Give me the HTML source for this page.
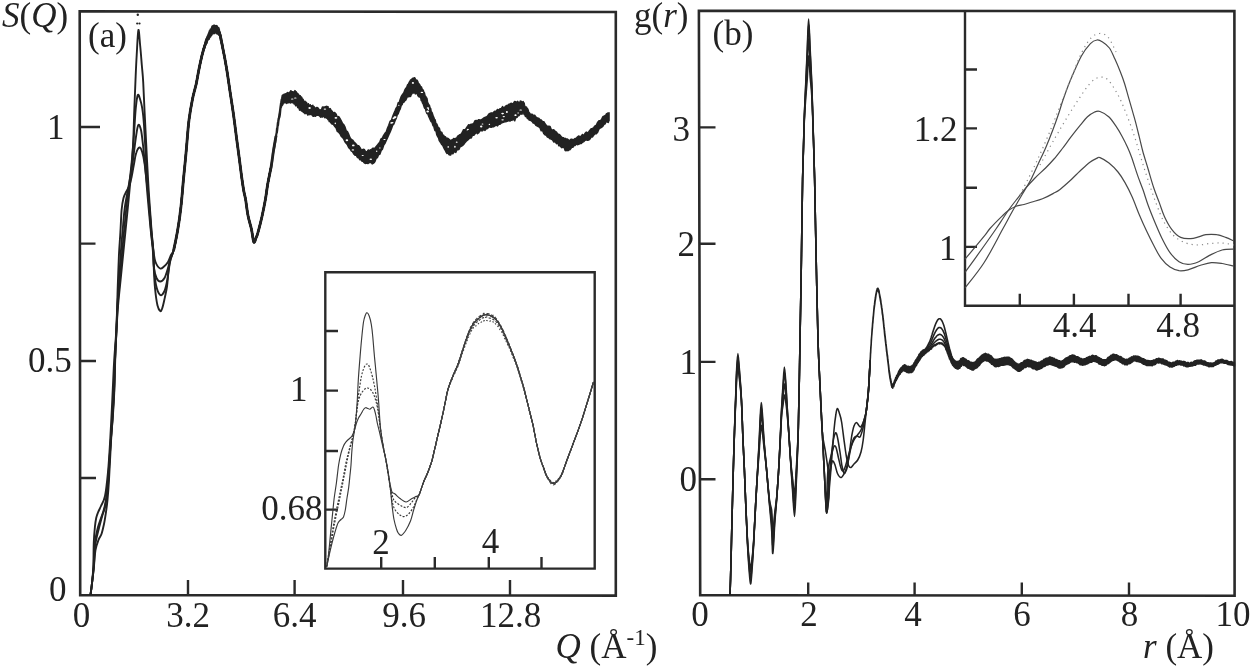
<!DOCTYPE html><html><head><meta charset="utf-8"><style>html,body{margin:0;padding:0;background:#fff;overflow:hidden}svg{display:block}text{font-family:"Liberation Serif",serif;fill:#222}</style></head><body>
<svg width="1251" height="667" viewBox="0 0 1251 667">
<rect width="100%" height="100%" fill="#fff"/>
<g fill="none" stroke="#2a2a2a" stroke-width="2.6" stroke-linecap="square">
<path d="M79.7 11.3 L615.8 12 L615.8 595.6 L80.2 595.1 Z"/>
<path d="M698.9 10.9 L1234.4 11.1 L1234.6 595.8 L700.2 595.2 Z"/>
</g>
<g fill="none" stroke="#2a2a2a" stroke-width="2.4">
<path d="M325.3 272.3 L594.7 272.3 L594.7 568.6 L325.3 568.6 Z"/>
<path d="M965 10.8 L965 305.8 L1234.5 305.8"/>
</g>
<path d="M80 127 H100 M80 243.6 H95.5 M80 361 H96 M80 478 H96 M188.0 595 V580 M294.6 595 V580 M403.0 595 V580 M510.0 595 V580 M699.5 127.4 H715.5 M699.5 243.8 H715.5 M699.5 361.9 H715.5 M699.5 479.2 H715.5 M808.2 595 V582.5 M914.6 595 V582.5 M1021.8 595 V582.5 M1129.0 595 V582.5 M325.3 331.0 H338 M325.3 390.6 H338 M325.3 451.0 H338 M325.3 509.6 H338 M381.2 568 V557 M434.8 568 V557 M488.8 568 V557 M541.5 568 V557 M965 69.5 H977 M965 128.4 H977 M965 187.7 H977 M965 246.9 H977 M1019.8 305.8 V293.7 M1073.9 305.8 V293.7 M1128.5 305.8 V293.7 M1180.6 305.8 V293.7" fill="none" stroke="#2a2a2a" stroke-width="2.4"/>
<g fill="none" stroke="#222" stroke-width="1.9" stroke-linejoin="round">
<path d="M90.5 595.0 C90.7 593.3 91.2 589.5 91.8 585.0 C92.3 580.5 93.2 573.8 93.8 568.0 C94.4 562.2 94.7 554.7 95.5 550.0 C96.3 545.3 97.5 542.7 98.5 540.0 C99.5 537.3 100.6 536.7 101.5 534.0 C102.4 531.3 103.2 527.7 104.0 524.0 C104.8 520.3 105.4 516.0 106.0 512.0 C106.6 508.0 107.0 505.3 107.5 500.0 C108.0 494.7 108.4 490.0 109.0 480.0 C109.6 470.0 110.5 450.0 111.1 440.0 C111.7 430.0 111.9 428.4 112.4 420.0 C112.9 411.6 113.8 399.3 114.2 389.4 C114.6 379.5 114.6 370.5 115.0 360.6 C115.4 350.7 116.0 339.4 116.5 330.0 C117.0 320.6 117.5 312.3 118.2 304.0 C118.9 295.7 119.8 288.0 120.6 280.0 C121.4 272.0 122.2 264.0 123.0 256.0 C123.8 248.0 124.6 240.0 125.4 232.0 C126.2 224.0 127.0 216.0 127.8 208.0 C128.6 200.0 129.4 191.7 130.1 184.0 C130.8 176.3 131.5 169.3 132.0 162.0 C132.5 154.7 132.9 148.7 133.3 140.0 C133.7 131.3 133.9 120.0 134.3 110.0 C134.7 100.0 135.1 89.2 135.5 80.0 C135.9 70.8 136.2 63.3 136.7 55.0 C137.2 46.7 137.8 31.5 138.4 30.0 C139.0 28.5 139.6 40.2 140.2 46.0 C140.8 51.8 141.3 59.0 141.8 65.0 C142.3 71.0 142.8 74.5 143.2 82.0 C143.6 89.5 144.1 102.0 144.5 110.0 C144.9 118.0 145.1 121.7 145.5 130.0 C145.9 138.3 146.4 149.2 147.0 160.0 C147.6 170.8 148.2 183.3 149.0 195.0 C149.8 206.7 150.8 220.8 151.5 230.0 C152.2 239.2 152.9 243.7 153.3 250.0 C153.7 256.3 153.5 261.7 153.8 268.0 C154.1 274.3 154.4 281.8 155.0 288.0 C155.6 294.2 156.6 301.7 157.5 305.5 C158.4 309.3 159.4 310.4 160.2 311.0 C160.9 311.6 161.3 310.8 162.0 309.0 C162.7 307.2 163.5 303.7 164.3 300.0 C165.1 296.3 166.3 291.6 167.0 286.6 C167.7 281.6 167.9 274.6 168.5 270.0 C169.1 265.4 169.6 262.3 170.5 259.0 C171.4 255.7 172.5 254.8 173.7 250.0 C174.9 245.2 176.5 237.0 177.7 230.0 C178.9 223.0 179.9 216.3 180.8 208.0 C181.8 199.7 182.5 189.7 183.4 180.0 C184.3 170.3 185.4 160.0 186.3 150.0 C187.2 140.0 187.9 128.6 189.0 120.0 C190.1 111.4 191.4 104.5 192.6 98.5 C193.8 92.5 195.1 88.8 196.2 84.0 C197.2 79.2 198.0 74.1 198.9 69.6 C199.8 65.1 200.6 61.2 201.6 57.0 C202.6 52.8 203.9 48.1 205.2 44.4 C206.5 40.6 208.2 37.0 209.5 34.5 C210.8 32.0 212.1 30.3 213.3 29.5 C214.5 28.7 215.5 29.2 216.5 29.8 C217.5 30.4 218.4 29.9 219.5 33.0 C220.6 36.1 221.7 42.9 222.9 48.7 C224.1 54.5 225.3 60.8 226.5 68.0 C227.7 75.2 228.9 84.0 230.1 92.0 C231.3 100.0 232.6 108.0 233.7 116.0 C234.8 124.0 235.8 132.7 236.8 140.0 C237.8 147.3 238.7 153.7 239.5 160.0 C240.3 166.3 241.1 173.0 241.8 178.0 C242.5 183.0 243.0 186.4 243.6 190.0 C244.2 193.6 244.8 195.1 245.6 199.4 C246.3 203.7 247.1 211.1 248.1 216.0 C249.1 220.9 250.4 224.7 251.4 229.0 C252.4 233.3 253.0 240.5 253.8 242.0 C254.6 243.5 255.3 239.6 256.0 238.0 C256.7 236.4 257.0 236.1 258.0 232.4 C259.0 228.7 260.9 221.5 262.1 216.0 C263.3 210.5 264.4 204.9 265.4 199.4 C266.4 193.9 266.9 188.5 267.9 183.0 C268.9 177.5 270.6 169.2 271.2 166.5"/>
<path d="M90.5 595.0 C90.7 593.3 91.2 589.7 91.8 585.0 C92.3 580.3 93.3 573.3 93.8 567.0 C94.3 560.7 94.5 552.2 95.0 547.0 C95.5 541.8 96.2 539.5 97.0 536.0 C97.8 532.5 98.6 529.5 99.5 526.0 C100.4 522.5 101.5 518.5 102.5 515.0 C103.5 511.5 104.6 510.0 105.5 505.0 C106.4 500.0 107.1 495.8 108.0 485.0 C108.9 474.2 110.0 450.8 110.8 440.0 C111.6 429.2 112.0 428.5 112.6 420.0 C113.2 411.5 114.0 399.0 114.4 389.0 C114.8 379.0 114.9 369.8 115.2 360.0 C115.5 350.2 116.1 339.3 116.5 330.0 C116.9 320.7 117.2 312.3 117.8 304.0 C118.3 295.7 119.1 288.0 119.8 280.0 C120.5 272.0 121.1 264.0 121.8 256.0 C122.5 248.0 123.2 240.0 124.0 232.0 C124.8 224.0 125.5 215.7 126.3 208.0 C127.1 200.3 128.2 193.0 129.0 186.0 C129.8 179.0 130.6 172.8 131.3 166.0 C132.0 159.2 132.6 151.8 133.2 145.0 C133.8 138.2 134.2 131.2 134.6 125.0 C135.0 118.8 135.3 113.0 135.8 108.0 C136.3 103.0 137.1 96.5 137.8 95.0 C138.5 93.5 139.3 96.8 140.0 99.0 C140.7 101.2 141.5 103.7 142.2 108.0 C142.9 112.3 143.4 116.3 144.0 125.0 C144.6 133.7 145.3 148.3 146.0 160.0 C146.7 171.7 147.5 183.3 148.3 195.0 C149.1 206.7 150.2 220.8 151.0 230.0 C151.8 239.2 152.7 243.7 153.2 250.0 C153.7 256.3 153.5 262.2 154.0 268.0 C154.5 273.8 155.0 280.5 156.0 285.0 C157.0 289.5 158.8 294.0 160.2 295.0 C161.6 296.0 163.3 293.7 164.5 291.0 C165.7 288.3 166.6 283.8 167.5 279.0 C168.4 274.2 169.0 266.8 170.0 262.0 C171.0 257.2 172.4 255.3 173.7 250.0 C175.0 244.7 176.5 237.0 177.7 230.0 C178.9 223.0 179.9 216.3 180.8 208.0 C181.8 199.7 182.5 189.7 183.4 180.0 C184.3 170.3 185.4 160.0 186.3 150.0 C187.2 140.0 187.9 128.6 189.0 120.0 C190.1 111.4 191.4 104.5 192.6 98.5 C193.8 92.5 195.1 88.8 196.2 84.0 C197.2 79.2 198.0 74.1 198.9 69.6 C199.8 65.1 200.6 61.2 201.6 57.0 C202.6 52.8 203.9 48.1 205.2 44.4 C206.5 40.6 208.2 37.0 209.5 34.5 C210.8 32.0 212.1 30.3 213.3 29.5 C214.5 28.7 215.5 29.2 216.5 29.8 C217.5 30.4 218.4 29.9 219.5 33.0 C220.6 36.1 221.7 42.9 222.9 48.7 C224.1 54.5 225.3 60.8 226.5 68.0 C227.7 75.2 228.9 84.0 230.1 92.0 C231.3 100.0 232.6 108.0 233.7 116.0 C234.8 124.0 235.8 132.7 236.8 140.0 C237.8 147.3 238.7 153.7 239.5 160.0 C240.3 166.3 241.1 173.0 241.8 178.0 C242.5 183.0 243.0 186.4 243.6 190.0 C244.2 193.6 244.8 195.1 245.6 199.4 C246.3 203.7 247.1 211.1 248.1 216.0 C249.1 220.9 250.4 224.7 251.4 229.0 C252.4 233.3 253.0 240.5 253.8 242.0 C254.6 243.5 255.3 239.6 256.0 238.0 C256.7 236.4 257.0 236.1 258.0 232.4 C259.0 228.7 260.9 221.5 262.1 216.0 C263.3 210.5 264.4 204.9 265.4 199.4 C266.4 193.9 266.9 188.5 267.9 183.0 C268.9 177.5 270.6 169.2 271.2 166.5"/>
<path d="M90.5 595.0 C90.7 593.3 91.3 589.7 91.8 585.0 C92.3 580.3 93.1 573.5 93.6 567.0 C94.0 560.5 94.1 551.2 94.5 546.0 C94.9 540.8 95.4 539.2 96.0 536.0 C96.6 532.8 97.2 530.0 98.0 527.0 C98.8 524.0 100.0 521.0 101.0 518.0 C102.0 515.0 103.0 513.3 104.0 509.0 C105.0 504.7 105.9 502.7 107.0 492.0 C108.1 481.3 109.6 457.0 110.5 445.0 C111.4 433.0 111.7 429.3 112.3 420.0 C112.9 410.7 113.5 399.0 114.0 389.0 C114.5 379.0 114.6 369.8 115.0 360.0 C115.4 350.2 116.0 339.3 116.4 330.0 C116.8 320.7 117.0 312.3 117.5 304.0 C118.0 295.7 118.7 288.0 119.2 280.0 C119.7 272.0 120.0 264.0 120.6 256.0 C121.1 248.0 121.8 239.7 122.5 232.0 C123.2 224.3 123.7 216.7 124.5 210.0 C125.3 203.3 126.5 197.7 127.5 192.0 C128.5 186.3 129.6 181.3 130.5 176.0 C131.4 170.7 132.1 166.3 133.0 160.0 C133.9 153.7 134.9 143.8 135.8 138.0 C136.7 132.2 137.4 126.3 138.3 125.0 C139.2 123.7 140.2 126.7 141.0 130.0 C141.8 133.3 142.3 139.2 143.0 145.0 C143.7 150.8 144.2 156.7 145.0 165.0 C145.8 173.3 146.6 184.5 147.5 195.0 C148.4 205.5 149.6 218.8 150.5 228.0 C151.4 237.2 152.2 243.3 152.8 250.0 C153.4 256.7 153.4 263.3 154.0 268.0 C154.6 272.7 155.5 275.8 156.5 278.0 C157.5 280.2 158.9 281.5 160.2 281.5 C161.5 281.5 163.2 280.2 164.5 278.0 C165.8 275.8 167.0 271.3 168.0 268.0 C169.0 264.7 169.6 261.0 170.5 258.0 C171.4 255.0 172.5 254.7 173.7 250.0 C174.9 245.3 176.5 237.0 177.7 230.0 C178.9 223.0 179.9 216.3 180.8 208.0 C181.8 199.7 182.5 189.7 183.4 180.0 C184.3 170.3 185.4 160.0 186.3 150.0 C187.2 140.0 187.9 128.6 189.0 120.0 C190.1 111.4 191.4 104.5 192.6 98.5 C193.8 92.5 195.1 88.8 196.2 84.0 C197.2 79.2 198.0 74.1 198.9 69.6 C199.8 65.1 200.6 61.2 201.6 57.0 C202.6 52.8 203.9 48.1 205.2 44.4 C206.5 40.6 208.2 37.0 209.5 34.5 C210.8 32.0 212.1 30.3 213.3 29.5 C214.5 28.7 215.5 29.2 216.5 29.8 C217.5 30.4 218.4 29.9 219.5 33.0 C220.6 36.1 221.7 42.9 222.9 48.7 C224.1 54.5 225.3 60.8 226.5 68.0 C227.7 75.2 228.9 84.0 230.1 92.0 C231.3 100.0 232.6 108.0 233.7 116.0 C234.8 124.0 235.8 132.7 236.8 140.0 C237.8 147.3 238.7 153.7 239.5 160.0 C240.3 166.3 241.1 173.0 241.8 178.0 C242.5 183.0 243.0 186.4 243.6 190.0 C244.2 193.6 244.8 195.1 245.6 199.4 C246.3 203.7 247.1 211.1 248.1 216.0 C249.1 220.9 250.4 224.7 251.4 229.0 C252.4 233.3 253.0 240.5 253.8 242.0 C254.6 243.5 255.3 239.6 256.0 238.0 C256.7 236.4 257.0 236.1 258.0 232.4 C259.0 228.7 260.9 221.5 262.1 216.0 C263.3 210.5 264.4 204.9 265.4 199.4 C266.4 193.9 266.9 188.5 267.9 183.0 C268.9 177.5 270.6 169.2 271.2 166.5"/>
<path d="M90.5 595.0 C90.7 593.3 91.3 589.7 91.8 585.0 C92.3 580.3 93.0 574.2 93.3 567.0 C93.6 559.8 93.5 548.7 93.8 542.0 C94.1 535.3 94.5 531.0 94.9 527.0 C95.3 523.0 95.7 520.4 96.2 518.0 C96.7 515.6 97.2 514.5 98.0 512.5 C98.8 510.5 99.8 508.8 101.0 506.0 C102.2 503.2 103.8 501.7 105.0 496.0 C106.2 490.3 107.1 481.3 108.0 472.0 C108.9 462.7 109.6 450.3 110.2 440.0 C110.8 429.7 111.3 420.0 111.8 410.0 C112.3 400.0 112.8 388.3 113.2 380.0 C113.6 371.7 113.7 368.3 114.2 360.0 C114.7 351.7 115.8 339.3 116.3 330.0 C116.8 320.7 117.0 311.5 117.2 304.0 C117.5 296.5 117.5 293.0 117.8 285.0 C118.1 277.0 118.5 264.8 118.9 256.0 C119.3 247.2 120.0 239.7 120.4 232.0 C120.9 224.3 121.1 215.7 121.6 210.0 C122.1 204.3 122.7 201.2 123.5 198.0 C124.3 194.8 125.6 193.0 126.6 191.0 C127.5 189.0 128.4 188.3 129.2 186.0 C130.0 183.7 130.8 180.5 131.6 177.0 C132.4 173.5 133.0 169.0 133.8 165.0 C134.6 161.0 135.2 155.9 136.2 153.0 C137.1 150.1 138.5 147.7 139.5 147.5 C140.5 147.3 141.4 149.4 142.2 152.0 C143.0 154.6 143.8 158.3 144.5 163.0 C145.2 167.7 145.8 173.8 146.5 180.0 C147.2 186.2 148.0 191.7 148.8 200.0 C149.6 208.3 150.6 221.7 151.3 230.0 C152.1 238.3 152.6 244.7 153.3 250.0 C154.0 255.3 154.3 258.9 155.5 262.0 C156.7 265.1 158.8 267.8 160.2 268.5 C161.6 269.2 162.7 267.6 164.0 266.5 C165.3 265.4 166.8 263.9 168.0 262.0 C169.2 260.1 170.1 257.0 171.0 255.0 C171.9 253.0 172.6 254.2 173.7 250.0 C174.8 245.8 176.5 237.0 177.7 230.0 C178.9 223.0 179.9 216.3 180.8 208.0 C181.8 199.7 182.5 189.7 183.4 180.0 C184.3 170.3 185.4 160.0 186.3 150.0 C187.2 140.0 187.9 128.6 189.0 120.0 C190.1 111.4 191.4 104.5 192.6 98.5 C193.8 92.5 195.1 88.8 196.2 84.0 C197.2 79.2 198.0 74.1 198.9 69.6 C199.8 65.1 200.6 61.2 201.6 57.0 C202.6 52.8 203.9 48.1 205.2 44.4 C206.5 40.6 208.2 37.0 209.5 34.5 C210.8 32.0 212.1 30.3 213.3 29.5 C214.5 28.7 215.5 29.2 216.5 29.8 C217.5 30.4 218.4 29.9 219.5 33.0 C220.6 36.1 221.7 42.9 222.9 48.7 C224.1 54.5 225.3 60.8 226.5 68.0 C227.7 75.2 228.9 84.0 230.1 92.0 C231.3 100.0 232.6 108.0 233.7 116.0 C234.8 124.0 235.8 132.7 236.8 140.0 C237.8 147.3 238.7 153.7 239.5 160.0 C240.3 166.3 241.1 173.0 241.8 178.0 C242.5 183.0 243.0 186.4 243.6 190.0 C244.2 193.6 244.8 195.1 245.6 199.4 C246.3 203.7 247.1 211.1 248.1 216.0 C249.1 220.9 250.4 224.7 251.4 229.0 C252.4 233.3 253.0 240.5 253.8 242.0 C254.6 243.5 255.3 239.6 256.0 238.0 C256.7 236.4 257.0 236.1 258.0 232.4 C259.0 228.7 260.9 221.5 262.1 216.0 C263.3 210.5 264.4 204.9 265.4 199.4 C266.4 193.9 266.9 188.5 267.9 183.0 C268.9 177.5 270.6 169.2 271.2 166.5"/>
</g>
<path d="M173.7 250.0 C174.4 246.7 176.5 237.0 177.7 230.0 C178.9 223.0 179.9 216.3 180.8 208.0 C181.8 199.7 182.5 189.7 183.4 180.0 C184.3 170.3 185.4 160.0 186.3 150.0 C187.2 140.0 187.9 128.6 189.0 120.0 C190.1 111.4 191.4 104.5 192.6 98.5 C193.8 92.5 195.1 88.8 196.2 84.0 C197.2 79.2 198.0 74.1 198.9 69.6 C199.8 65.1 200.6 61.2 201.6 57.0 C202.6 52.8 203.9 48.1 205.2 44.4 C206.5 40.6 208.2 37.0 209.5 34.5 C210.8 32.0 212.1 30.3 213.3 29.5 C214.5 28.7 215.5 29.2 216.5 29.8 C217.5 30.4 218.4 29.9 219.5 33.0 C220.6 36.1 221.7 42.9 222.9 48.7 C224.1 54.5 225.3 60.8 226.5 68.0 C227.7 75.2 228.9 84.0 230.1 92.0 C231.3 100.0 232.6 108.0 233.7 116.0 C234.8 124.0 235.8 132.7 236.8 140.0 C237.8 147.3 238.7 153.7 239.5 160.0 C240.3 166.3 241.1 173.0 241.8 178.0 C242.5 183.0 243.0 186.4 243.6 190.0 C244.2 193.6 244.8 195.1 245.6 199.4 C246.3 203.7 247.1 211.1 248.1 216.0 C249.1 220.9 250.4 224.7 251.4 229.0 C252.4 233.3 253.0 240.5 253.8 242.0 C254.6 243.5 255.3 239.6 256.0 238.0 C256.7 236.4 257.0 236.1 258.0 232.4 C259.0 228.7 260.9 221.5 262.1 216.0 C263.3 210.5 264.4 204.9 265.4 199.4 C266.4 193.9 266.9 188.5 267.9 183.0 C268.9 177.5 270.2 172.0 271.2 166.5 C272.1 161.0 272.8 155.1 273.6 150.0 C274.4 144.9 275.6 138.3 276.0 136.0" fill="none" stroke="#222" stroke-width="2.8" stroke-linejoin="round"/>
<path d="M196.2 83.4 L196.4 81.7 L196.7 80.0 L197.0 79.6 L197.4 77.0 L197.8 74.0 L198.2 73.0 L198.5 71.0 L198.9 68.3 L199.2 67.0 L199.6 65.5 L199.9 63.6 L200.2 61.5 L200.5 60.9 L200.9 58.9 L201.2 57.0 L201.6 55.4 L202.0 53.7 L202.4 53.1 L202.9 50.6 L203.3 48.4 L203.8 48.1 L204.2 45.9 L204.7 44.3 L205.2 42.1 L205.7 40.3 L206.2 38.7 L206.8 37.9 L207.3 36.3 L207.9 35.3 L208.4 33.9 L209.0 32.7 L209.5 30.7 L210.0 30.6 L210.5 29.1 L211.0 29.5 L211.5 28.2 L211.9 26.8 L212.4 25.9 L212.9 26.4 L213.3 26.2 L213.7 25.3 L214.1 25.6 L214.6 25.3 L215.0 25.7 L215.3 26.2 L215.7 25.8 L216.1 26.1 L216.5 25.7 L216.9 26.0 L217.3 26.0 L217.6 27.4 L218.0 27.5 L218.4 28.0 L218.7 27.8 L219.1 29.0 L219.5 30.9 L219.9 32.0 L220.3 34.1 L220.7 34.8 L221.2 37.2 L221.6 40.8 L222.0 41.6 L222.5 44.3 L222.9 47.3 L223.3 49.2 L223.8 51.8 L224.2 53.4 L224.7 56.8 L225.1 58.9 L225.6 62.0 L226.0 64.8 L226.5 67.2 L227.0 70.5 L227.5 72.6 L228.0 76.8 L228.5 80.5 L229.0 84.2 L229.5 86.0 L229.8 89.3 L230.1 91.1 L230.1 92.2 L229.8 91.0 L229.5 87.8 L229.0 84.9 L228.5 81.4 L228.0 78.1 L227.5 74.5 L227.0 72.0 L226.5 69.5 L226.0 66.0 L225.6 63.8 L225.1 61.8 L224.7 58.4 L224.2 56.9 L223.8 54.0 L223.3 51.8 L222.9 51.0 L222.5 48.0 L222.0 45.4 L221.6 44.2 L221.2 42.7 L220.7 40.9 L220.3 38.0 L219.9 36.4 L219.5 35.5 L219.1 34.6 L218.7 35.0 L218.4 33.8 L218.0 33.3 L217.6 33.5 L217.3 33.9 L216.9 33.8 L216.5 33.4 L216.1 32.7 L215.7 32.4 L215.3 32.5 L215.0 31.9 L214.6 33.5 L214.1 32.7 L213.7 33.5 L213.3 32.6 L212.9 33.7 L212.4 33.7 L211.9 34.5 L211.5 35.5 L211.0 34.8 L210.5 36.9 L210.0 36.2 L209.5 37.7 L209.0 39.2 L208.4 38.9 L207.9 39.8 L207.3 41.3 L206.8 43.3 L206.2 43.1 L205.7 45.1 L205.2 45.5 L204.7 48.2 L204.2 48.3 L203.8 49.8 L203.3 51.8 L202.9 53.5 L202.4 54.4 L202.0 57.3 L201.6 58.7 L201.2 59.3 L200.9 60.6 L200.5 63.1 L200.2 63.9 L199.9 66.1 L199.6 67.7 L199.2 69.5 L198.9 69.8 L198.5 71.7 L198.2 74.1 L197.8 76.0 L197.4 78.4 L197.0 79.5 L196.7 82.0 L196.4 84.0 L196.2 84.3 Z" fill="#222" stroke="#222" stroke-width="1.6" stroke-linejoin="round"/>
<path d="M266.1 193.7 L266.4 191.9 L266.6 190.4 L266.9 186.9 L267.2 185.4 L267.6 185.1 L267.9 182.6 L268.3 180.0 L268.7 177.9 L269.1 175.5 L269.6 173.8 L270.0 171.9 L270.4 168.7 L270.8 167.9 L271.2 165.4 L271.5 163.3 L271.9 160.4 L272.2 158.4 L272.5 157.3 L272.7 153.4 L273.0 153.3 L273.3 150.4 L273.6 148.2 L273.9 145.9 L274.2 144.7 L274.5 143.3 L274.8 142.0 L275.0 139.9 L275.4 138.6 L275.7 136.8 L276.0 134.3 L276.4 132.3 L276.7 128.6 L277.1 127.5 L277.5 123.2 L277.9 121.4 L278.3 118.5 L278.7 117.5 L279.1 114.4 L279.5 112.3 L279.8 110.2 L280.2 106.9 L280.6 104.0 L280.9 102.4 L281.4 99.3 L281.8 98.5 L282.3 95.6 L282.8 95.1 L283.4 95.7 L284.0 94.2 L284.7 94.3 L285.3 93.9 L286.0 94.7 L286.8 93.3 L287.5 92.6 L288.3 94.1 L289.1 92.7 L290.0 92.1 L290.9 90.8 L291.8 92.1 L292.7 91.9 L293.5 92.0 L294.3 92.1 L295.0 90.6 L295.6 92.5 L296.2 91.9 L296.7 93.2 L297.3 93.2 L297.8 93.8 L298.4 94.2 L299.0 95.8 L299.6 95.8 L300.3 95.9 L300.9 97.9 L301.6 97.2 L302.3 99.3 L303.0 99.2 L303.6 101.2 L304.3 101.9 L305.0 101.3 L305.6 103.3 L306.3 102.3 L307.0 103.6 L307.7 104.8 L308.3 103.8 L309.0 105.7 L309.6 106.1 L310.2 104.8 L310.7 106.7 L311.2 105.8 L311.8 106.1 L312.3 107.4 L312.8 105.4 L313.4 107.6 L314.0 106.7 L314.7 108.2 L315.4 108.0 L316.1 108.1 L316.9 107.5 L317.7 107.7 L318.4 108.8 L319.2 109.6 L320.0 110.0 L320.8 109.8 L321.6 109.5 L322.5 107.0 L323.4 107.0 L324.2 107.8 L325.0 106.9 L325.7 107.2 L326.4 106.3 L326.9 106.9 L327.3 106.7 L327.7 107.4 L328.0 106.8 L328.3 109.0 L328.7 109.2 L329.3 109.3 L330.0 108.5 L330.9 109.9 L332.0 111.2 L333.3 113.1 L334.6 112.5 L336.0 114.0 L337.3 117.3 L338.7 116.6 L340.0 118.7 L341.2 120.8 L342.5 123.5 L343.8 124.9 L345.0 127.2 L346.2 131.0 L347.5 131.8 L348.8 134.7 L350.0 137.7 L351.3 139.4 L352.5 140.1 L353.8 141.8 L355.1 143.0 L356.4 144.5 L357.6 145.9 L358.8 145.9 L360.0 147.7 L361.1 149.7 L362.2 150.3 L363.2 149.4 L364.2 149.5 L365.2 151.2 L366.1 151.8 L367.1 151.8 L368.0 150.3 L368.9 150.0 L369.8 151.7 L370.6 149.8 L371.4 151.3 L372.2 148.7 L373.1 148.2 L374.0 148.6 L375.0 148.1 L376.1 146.7 L377.3 145.4 L378.5 143.8 L379.8 142.3 L381.1 138.9 L382.4 138.2 L383.7 135.4 L385.0 133.4 L386.3 132.0 L387.5 128.2 L388.8 125.2 L390.1 121.5 L391.4 120.5 L392.6 116.9 L393.8 113.9 L395.0 111.1 L396.1 108.3 L397.2 107.0 L398.2 102.9 L399.2 102.7 L400.2 99.5 L401.1 97.0 L402.1 95.2 L403.0 93.9 L403.9 92.7 L404.9 89.9 L405.8 88.5 L406.8 87.3 L407.6 84.9 L408.5 84.2 L409.3 82.2 L410.0 81.4 L410.6 80.1 L411.2 80.2 L411.6 79.4 L412.1 79.7 L412.5 78.4 L412.9 78.9 L413.4 78.5 L414.0 77.9 L414.7 77.7 L415.4 79.3 L416.1 80.7 L416.9 80.2 L417.7 81.4 L418.5 84.3 L419.3 84.1 L420.0 85.6 L420.7 87.4 L421.3 86.9 L421.9 88.5 L422.6 90.3 L423.2 90.1 L423.8 92.3 L424.4 92.9 L425.0 95.9 L425.6 96.4 L426.2 97.4 L426.9 98.5 L427.5 102.0 L428.1 103.7 L428.8 104.9 L429.4 105.4 L430.0 107.9 L430.6 108.5 L431.2 111.8 L431.9 112.4 L432.5 114.0 L433.1 116.2 L433.8 117.5 L434.4 119.3 L435.0 119.7 L435.6 122.2 L436.2 124.1 L436.8 124.0 L437.4 125.9 L438.0 127.3 L438.6 127.7 L439.3 128.3 L440.0 131.1 L440.8 132.2 L441.7 132.3 L442.6 134.9 L443.5 135.2 L444.4 136.9 L445.3 136.8 L446.2 138.1 L447.0 138.2 L447.7 138.3 L448.3 138.7 L448.9 140.7 L449.4 139.5 L450.0 140.2 L450.6 141.1 L451.2 140.5 L452.0 139.8 L452.8 139.7 L453.7 138.5 L454.7 139.2 L455.7 138.5 L456.7 138.1 L457.8 136.2 L458.9 135.5 L460.0 134.7 L461.2 134.1 L462.4 132.3 L463.6 129.7 L464.9 130.0 L466.2 128.4 L467.5 126.4 L468.7 124.8 L470.0 125.3 L471.2 124.2 L472.5 124.2 L473.8 123.3 L475.0 120.8 L476.2 120.6 L477.5 120.8 L478.8 119.7 L480.0 120.0 L481.2 119.7 L482.5 119.2 L483.8 118.1 L485.0 117.6 L486.2 117.1 L487.5 116.3 L488.8 114.1 L490.0 113.4 L491.2 112.9 L492.5 113.5 L493.8 112.1 L495.0 111.2 L496.2 111.6 L497.5 109.5 L498.8 110.2 L500.0 108.7 L501.3 108.7 L502.6 106.7 L503.9 108.0 L505.2 106.7 L506.5 105.6 L507.7 105.6 L508.9 104.2 L510.0 104.0 L511.0 103.3 L512.0 103.8 L512.9 103.9 L513.8 102.8 L514.7 101.5 L515.5 101.7 L516.2 102.3 L517.0 102.7 L517.7 101.4 L518.4 102.7 L519.1 102.7 L519.7 102.9 L520.3 101.1 L520.9 102.4 L521.4 101.4 L522.0 102.4 L522.5 102.5 L523.1 101.7 L523.6 102.6 L524.1 103.0 L524.5 105.7 L525.0 106.7 L525.5 107.0 L526.0 108.1 L526.5 107.2 L526.9 109.4 L527.2 108.5 L527.6 108.8 L528.1 110.0 L528.6 112.2 L529.2 112.6 L530.0 113.8 L531.0 114.7 L532.1 114.2 L533.3 115.8 L534.6 115.3 L536.0 117.2 L537.4 118.0 L538.7 118.3 L540.0 119.8 L541.2 120.1 L542.5 121.7 L543.8 121.7 L545.0 123.8 L546.2 125.4 L547.5 126.5 L548.8 126.2 L550.0 126.5 L551.3 129.8 L552.6 130.0 L553.9 129.9 L555.2 131.4 L556.5 132.2 L557.7 134.3 L558.9 134.3 L560.0 135.2 L561.0 136.4 L561.9 137.5 L562.8 138.0 L563.6 137.8 L564.4 139.9 L565.2 138.4 L566.1 139.1 L567.0 139.0 L567.9 139.5 L568.9 140.4 L569.8 140.6 L570.8 139.4 L571.8 139.3 L572.8 139.9 L573.9 139.5 L575.0 138.6 L576.2 138.6 L577.4 137.1 L578.6 136.0 L579.9 137.0 L581.2 136.2 L582.5 134.5 L583.7 135.7 L585.0 133.6 L586.2 132.2 L587.5 133.0 L588.8 131.8 L590.0 130.2 L591.2 128.9 L592.5 128.7 L593.8 127.6 L595.0 126.0 L596.3 125.4 L597.6 122.5 L599.0 120.9 L600.4 120.9 L601.7 119.1 L602.9 116.8 L604.0 116.3 L605.0 115.6 L605.8 115.8 L606.5 113.8 L607.1 114.1 L607.6 113.1 L608.1 114.2 L608.4 114.7 L608.7 113.1 L609.0 112.8 L609.0 120.7 L608.7 120.1 L608.4 122.0 L608.1 122.4 L607.6 122.1 L607.1 120.8 L606.5 121.7 L605.8 122.2 L605.0 124.0 L604.0 124.2 L602.9 126.2 L601.7 127.2 L600.4 127.8 L599.0 128.8 L597.6 132.3 L596.3 133.6 L595.0 133.6 L593.8 134.9 L592.5 136.9 L591.2 136.7 L590.0 138.9 L588.8 140.0 L587.5 140.2 L586.2 139.7 L585.0 140.3 L583.7 141.6 L582.5 142.2 L581.2 143.4 L579.9 143.5 L578.6 144.3 L577.4 144.6 L576.2 144.0 L575.0 145.4 L573.9 145.5 L572.8 147.2 L571.8 146.7 L570.8 148.6 L569.8 149.8 L568.9 149.8 L567.9 150.6 L567.0 149.9 L566.1 150.7 L565.2 150.5 L564.4 148.0 L563.6 147.3 L562.8 146.9 L561.9 147.6 L561.0 146.8 L560.0 145.5 L558.9 145.8 L557.7 142.8 L556.5 143.6 L555.2 141.4 L553.9 142.0 L552.6 139.9 L551.3 139.0 L550.0 138.8 L548.8 137.5 L547.5 137.1 L546.2 135.1 L545.0 134.8 L543.8 133.4 L542.5 130.3 L541.2 130.6 L540.0 127.6 L538.7 126.7 L537.4 126.1 L536.0 125.4 L534.6 123.3 L533.3 122.9 L532.1 121.3 L531.0 120.6 L530.0 120.1 L529.2 120.0 L528.6 118.1 L528.1 118.8 L527.6 117.6 L527.2 118.2 L526.9 115.9 L526.5 116.7 L526.0 114.9 L525.5 116.5 L525.0 115.0 L524.5 113.8 L524.1 114.4 L523.6 112.5 L523.1 112.3 L522.5 111.9 L522.0 114.1 L521.4 112.3 L520.9 114.0 L520.3 113.6 L519.7 114.3 L519.1 115.4 L518.4 115.7 L517.7 115.9 L517.0 117.3 L516.2 117.5 L515.5 118.0 L514.7 120.7 L513.8 119.6 L512.9 119.1 L512.0 120.3 L511.0 119.7 L510.0 121.1 L508.9 120.6 L507.7 121.0 L506.5 121.4 L505.2 121.8 L503.9 122.0 L502.6 122.5 L501.3 122.9 L500.0 124.1 L498.8 124.1 L497.5 125.8 L496.2 125.1 L495.0 125.7 L493.8 126.6 L492.5 126.8 L491.2 127.2 L490.0 126.9 L488.8 127.0 L487.5 128.4 L486.2 128.7 L485.0 130.3 L483.8 129.3 L482.5 130.6 L481.2 130.8 L480.0 130.2 L478.8 132.7 L477.5 133.6 L476.2 132.3 L475.0 133.8 L473.8 135.3 L472.5 135.0 L471.2 138.0 L470.0 137.8 L468.7 138.9 L467.5 140.2 L466.2 141.2 L464.9 142.6 L463.6 144.5 L462.4 145.6 L461.2 146.2 L460.0 146.8 L458.9 149.5 L457.8 149.6 L456.7 150.1 L455.7 152.3 L454.7 151.1 L453.7 152.4 L452.8 153.7 L452.0 153.3 L451.2 153.4 L450.6 155.0 L450.0 155.0 L449.4 153.5 L448.9 154.6 L448.3 152.8 L447.7 152.7 L447.0 153.4 L446.2 152.3 L445.3 150.2 L444.4 148.8 L443.5 147.0 L442.6 145.0 L441.7 144.3 L440.8 142.7 L440.0 141.6 L439.3 140.6 L438.6 137.8 L438.0 137.0 L437.4 135.8 L436.8 134.6 L436.2 131.7 L435.6 130.2 L435.0 130.4 L434.4 128.5 L433.8 126.0 L433.1 125.8 L432.5 123.7 L431.9 121.7 L431.2 121.6 L430.6 120.5 L430.0 119.2 L429.4 117.7 L428.8 116.6 L428.1 114.5 L427.5 112.6 L426.9 113.3 L426.2 111.5 L425.6 109.0 L425.0 108.5 L424.4 107.5 L423.8 105.7 L423.2 103.8 L422.6 103.0 L421.9 100.8 L421.3 100.5 L420.7 97.3 L420.0 96.8 L419.3 97.0 L418.5 96.3 L417.7 95.0 L416.9 93.2 L416.1 92.6 L415.4 93.8 L414.7 92.8 L414.0 91.4 L413.4 93.0 L412.9 91.9 L412.5 92.9 L412.1 93.0 L411.6 94.3 L411.2 94.4 L410.6 96.2 L410.0 96.5 L409.3 96.0 L408.5 96.7 L407.6 96.4 L406.8 97.7 L405.8 100.0 L404.9 100.5 L403.9 102.2 L403.0 101.7 L402.1 104.4 L401.1 105.6 L400.2 108.9 L399.2 110.7 L398.2 113.6 L397.2 114.7 L396.1 118.4 L395.0 120.7 L393.8 123.9 L392.6 125.3 L391.4 128.8 L390.1 132.0 L388.8 134.7 L387.5 137.6 L386.3 140.3 L385.0 143.3 L383.7 144.9 L382.4 149.1 L381.1 150.4 L379.8 154.3 L378.5 154.6 L377.3 157.6 L376.1 158.3 L375.0 161.2 L374.0 162.7 L373.1 163.4 L372.2 163.9 L371.4 162.6 L370.6 162.5 L369.8 162.4 L368.9 162.6 L368.0 163.5 L367.1 163.3 L366.1 163.3 L365.2 163.4 L364.2 162.7 L363.2 161.3 L362.2 161.3 L361.1 159.5 L360.0 159.8 L358.8 157.8 L357.6 157.5 L356.4 155.3 L355.1 155.2 L353.8 153.9 L352.5 151.7 L351.3 150.9 L350.0 148.7 L348.8 147.6 L347.5 144.8 L346.2 143.3 L345.0 141.7 L343.8 139.1 L342.5 137.3 L341.2 136.1 L340.0 133.7 L338.7 132.2 L337.3 131.3 L336.0 127.6 L334.6 126.1 L333.3 124.2 L332.0 123.9 L330.9 122.8 L330.0 121.1 L329.3 121.5 L328.7 118.6 L328.3 119.8 L328.0 119.3 L327.7 118.9 L327.3 117.0 L326.9 118.1 L326.4 118.0 L325.7 116.4 L325.0 117.7 L324.2 116.6 L323.4 116.0 L322.5 117.0 L321.6 116.5 L320.8 117.2 L320.0 116.5 L319.2 114.9 L318.4 115.4 L317.7 114.8 L316.9 115.3 L316.1 115.5 L315.4 116.2 L314.7 114.5 L314.0 116.2 L313.4 116.2 L312.8 116.0 L312.3 114.1 L311.8 114.7 L311.2 114.7 L310.7 114.3 L310.2 114.2 L309.6 114.2 L309.0 114.8 L308.3 113.8 L307.7 115.0 L307.0 113.3 L306.3 112.9 L305.6 113.4 L305.0 113.6 L304.3 112.1 L303.6 112.4 L303.0 111.7 L302.3 110.7 L301.6 111.0 L300.9 110.1 L300.3 109.5 L299.6 110.1 L299.0 107.7 L298.4 107.8 L297.8 107.5 L297.3 106.1 L296.7 105.4 L296.2 105.0 L295.6 105.6 L295.0 102.8 L294.3 104.0 L293.5 102.7 L292.7 102.8 L291.8 101.6 L290.9 102.9 L290.0 102.8 L289.1 101.5 L288.3 102.7 L287.5 102.3 L286.8 103.3 L286.0 102.7 L285.3 102.8 L284.7 102.7 L284.0 102.7 L283.4 102.6 L282.8 104.6 L282.3 105.2 L281.8 104.8 L281.4 107.0 L280.9 108.0 L280.6 110.2 L280.2 114.7 L279.8 116.9 L279.5 117.6 L279.1 119.1 L278.7 121.3 L278.3 125.3 L277.9 126.2 L277.5 130.1 L277.1 132.9 L276.7 133.0 L276.4 136.4 L276.0 137.6 L275.7 140.3 L275.4 143.0 L275.0 142.7 L274.8 146.3 L274.5 147.7 L274.2 149.3 L273.9 150.2 L273.6 151.6 L273.3 153.3 L273.0 155.6 L272.7 157.1 L272.5 158.8 L272.2 162.9 L271.9 164.7 L271.5 167.0 L271.2 169.0 L270.8 170.0 L270.4 171.0 L270.0 174.4 L269.6 175.1 L269.1 178.7 L268.7 181.1 L268.3 181.4 L267.9 184.2 L267.6 186.2 L267.2 187.6 L266.9 191.1 L266.6 191.2 L266.4 194.5 L266.1 196.4 Z" fill="#222" stroke="#222" stroke-width="1.6" stroke-linejoin="round"/>
<g fill="#fff"><ellipse cx="481.2" cy="126.4" rx="1.2" ry="1.0"/><ellipse cx="518.1" cy="113.0" rx="0.6" ry="0.7"/><ellipse cx="489.4" cy="124.4" rx="0.7" ry="0.7"/><ellipse cx="362.7" cy="155.6" rx="1.1" ry="0.5"/><ellipse cx="353.3" cy="145.4" rx="1.3" ry="0.9"/><ellipse cx="335.3" cy="123.4" rx="0.7" ry="0.8"/><ellipse cx="324.9" cy="109.1" rx="1.3" ry="0.6"/><ellipse cx="352.9" cy="149.9" rx="1.3" ry="0.6"/><ellipse cx="454.9" cy="146.7" rx="0.8" ry="1.0"/><ellipse cx="502.6" cy="119.8" rx="1.3" ry="0.6"/><ellipse cx="398.8" cy="105.3" rx="0.7" ry="0.5"/><ellipse cx="379.9" cy="148.0" rx="0.6" ry="0.8"/><ellipse cx="391.4" cy="123.0" rx="1.3" ry="0.7"/><ellipse cx="384.5" cy="139.4" rx="1.2" ry="0.5"/><ellipse cx="292.2" cy="98.9" rx="1.3" ry="0.5"/><ellipse cx="467.2" cy="130.0" rx="0.6" ry="0.6"/><ellipse cx="346.9" cy="140.2" rx="1.3" ry="1.0"/><ellipse cx="393.5" cy="118.3" rx="1.0" ry="0.9"/><ellipse cx="520.7" cy="109.9" rx="1.3" ry="0.5"/><ellipse cx="392.3" cy="122.6" rx="1.3" ry="0.7"/><ellipse cx="456.7" cy="142.2" rx="0.9" ry="0.6"/><ellipse cx="309.6" cy="108.1" rx="1.2" ry="1.0"/><ellipse cx="335.9" cy="117.9" rx="1.4" ry="0.8"/><ellipse cx="412.9" cy="82.9" rx="1.1" ry="0.9"/><ellipse cx="428.5" cy="109.1" rx="0.6" ry="1.0"/><ellipse cx="295.3" cy="98.0" rx="1.3" ry="0.6"/><ellipse cx="515.5" cy="115.2" rx="1.1" ry="0.9"/><ellipse cx="421.9" cy="92.4" rx="1.3" ry="0.6"/><ellipse cx="427.7" cy="111.5" rx="1.3" ry="1.0"/><ellipse cx="427.9" cy="108.0" rx="1.2" ry="0.7"/><ellipse cx="376.7" cy="151.2" rx="0.7" ry="0.7"/><ellipse cx="482.5" cy="124.1" rx="0.9" ry="0.5"/><ellipse cx="370.8" cy="159.2" rx="1.3" ry="0.7"/><ellipse cx="503.8" cy="116.6" rx="1.2" ry="0.7"/><ellipse cx="506.9" cy="112.0" rx="1.0" ry="0.9"/><ellipse cx="502.6" cy="113.6" rx="1.4" ry="0.8"/><ellipse cx="467.9" cy="129.4" rx="1.0" ry="0.6"/><ellipse cx="496.6" cy="117.7" rx="1.3" ry="0.8"/><ellipse cx="394.6" cy="117.5" rx="1.2" ry="0.9"/><ellipse cx="395.3" cy="117.1" rx="1.3" ry="0.8"/><ellipse cx="448.2" cy="146.9" rx="0.7" ry="0.9"/></g>
<g fill="#222"><circle cx="137.8" cy="14.8" r="1.2"/><circle cx="137.2" cy="23.5" r="1.1"/><circle cx="139.5" cy="23.5" r="1.1"/></g>
<g fill="none" stroke="#3a3a3a" stroke-width="1.15" stroke-linejoin="round">
<path d="M326.5 567.0 C326.9 565.2 328.1 560.0 329.0 556.0 C329.9 552.0 331.0 547.0 332.0 543.0 C333.0 539.0 334.0 535.3 335.0 532.0 C336.0 528.7 337.0 525.1 338.0 523.0 C339.0 520.9 340.1 520.5 341.0 519.5 C341.9 518.5 342.8 518.6 343.5 517.0 C344.2 515.4 344.7 513.2 345.3 510.0 C345.9 506.8 346.4 501.8 347.0 498.0 C347.6 494.2 348.2 491.2 348.7 487.4 C349.2 483.6 349.6 478.7 350.0 475.0 C350.4 471.3 350.7 468.8 351.0 465.0 C351.3 461.2 351.5 455.8 351.8 452.0 C352.1 448.2 352.3 445.3 352.7 442.0 C353.1 438.7 353.7 435.7 354.2 432.0 C354.7 428.3 355.3 425.3 355.8 420.0 C356.3 414.7 356.9 406.7 357.3 400.0 C357.7 393.3 357.8 388.1 358.3 380.0 C358.8 371.9 359.9 358.9 360.5 351.4 C361.1 343.9 361.5 339.9 362.0 335.0 C362.5 330.1 363.0 325.2 363.5 322.0 C364.0 318.8 364.6 317.1 365.2 315.5 C365.8 313.9 366.4 312.6 367.1 312.7 C367.8 312.8 368.5 314.1 369.2 316.0 C369.9 317.9 370.7 320.9 371.3 324.4 C371.9 327.9 372.4 332.5 372.8 337.0 C373.2 341.5 373.6 346.6 374.0 351.4 C374.4 356.2 374.9 361.2 375.4 366.0 C375.8 370.8 376.2 374.3 376.7 380.0 C377.2 385.7 377.9 392.0 378.5 400.0 C379.1 408.0 379.7 420.1 380.5 428.0 C381.3 435.9 382.5 441.8 383.5 447.5 C384.5 453.2 385.6 457.8 386.5 462.5 C387.4 467.2 388.0 471.4 388.7 476.0 C389.4 480.6 389.9 485.2 390.5 490.0 C391.1 494.8 391.4 500.1 392.0 505.0 C392.6 509.9 393.2 515.5 394.0 519.5 C394.8 523.5 395.8 526.7 396.5 529.0 C397.2 531.3 397.7 532.5 398.5 533.5 C399.3 534.5 400.2 535.8 401.5 535.2 C402.8 534.6 404.5 532.4 406.0 530.0 C407.5 527.6 409.2 524.2 410.5 521.0 C411.8 517.8 412.5 513.8 413.5 510.5 C414.5 507.2 415.6 503.6 416.5 501.0 C417.4 498.4 418.2 496.9 419.0 495.0 C419.8 493.1 420.2 491.8 421.0 489.5 C421.8 487.2 422.8 483.9 424.0 481.0 C425.2 478.1 426.8 475.2 428.0 472.0 C429.2 468.8 430.4 465.7 431.5 462.0 C432.6 458.3 433.5 454.2 434.5 450.0 C435.5 445.8 436.4 441.7 437.5 437.0 C438.6 432.3 439.8 427.2 441.0 422.0 C442.2 416.8 443.4 411.3 444.5 406.0 C445.6 400.7 446.5 394.8 447.8 390.0 C449.1 385.2 450.8 381.3 452.5 377.0 C454.2 372.7 456.2 369.1 458.0 364.4 C459.8 359.7 461.3 354.1 463.0 349.0 C464.7 343.9 466.6 338.0 468.2 334.0 C469.8 330.0 471.0 327.4 472.5 325.0 C474.0 322.6 475.5 321.3 477.1 319.8 C478.7 318.3 480.5 316.9 482.0 316.0 C483.5 315.1 484.5 314.7 486.0 314.7 C487.5 314.7 489.3 315.1 491.0 316.0 C492.7 316.9 494.6 317.8 496.3 319.8 C498.1 321.8 499.8 324.8 501.5 328.0 C503.2 331.2 504.8 335.2 506.5 339.0 C508.2 342.8 509.8 346.8 511.5 351.0 C513.2 355.2 515.1 360.1 516.6 364.4 C518.1 368.7 519.2 372.7 520.5 377.0 C521.8 381.3 523.0 385.0 524.3 390.0 C525.6 395.0 527.0 401.0 528.5 407.0 C530.0 413.0 531.9 420.0 533.2 426.0 C534.5 432.0 535.3 437.6 536.5 443.0 C537.7 448.4 539.0 454.1 540.3 458.4 C541.5 462.7 542.8 465.8 544.0 469.0 C545.2 472.2 545.9 475.1 547.5 477.5 C549.1 479.9 551.3 483.7 553.5 483.5 C555.7 483.3 558.5 480.2 560.7 476.4 C562.9 472.6 564.5 466.6 566.7 460.8 C568.9 455.0 571.5 448.0 573.9 441.6 C576.3 435.2 578.6 429.3 581.0 422.4 C583.4 415.5 585.9 406.7 588.0 400.0 C590.1 393.3 592.6 385.0 593.5 382.0"/>
<path d="M326.5 567.0 C326.8 565.3 327.8 560.5 328.5 557.0 C329.2 553.5 329.8 549.7 330.5 546.0 C331.2 542.3 331.9 538.4 332.5 535.0 C333.1 531.6 333.5 529.0 334.1 525.6 C334.8 522.2 335.5 518.9 336.4 514.4 C337.3 509.9 338.8 503.3 339.7 498.7 C340.6 494.1 341.2 490.8 342.0 487.0 C342.8 483.2 343.4 479.8 344.2 476.0 C344.9 472.2 345.8 467.7 346.5 464.0 C347.2 460.3 347.9 457.0 348.7 453.7 C349.4 450.4 350.2 447.3 351.0 444.0 C351.8 440.7 352.7 438.0 353.5 434.0 C354.3 430.0 355.1 425.0 355.8 420.0 C356.5 415.0 356.9 409.3 357.5 404.0 C358.1 398.7 358.8 392.7 359.5 388.0 C360.2 383.3 360.8 379.2 361.5 376.0 C362.2 372.8 362.8 370.8 363.5 369.0 C364.2 367.2 364.9 365.8 365.5 365.0 C366.1 364.2 366.3 364.0 366.8 364.0 C367.3 364.0 367.9 364.0 368.5 365.0 C369.1 366.0 369.8 368.0 370.5 370.0 C371.2 372.0 371.8 374.3 372.5 377.0 C373.2 379.7 373.8 382.5 374.5 386.0 C375.2 389.5 375.8 393.7 376.5 398.0 C377.2 402.3 377.8 406.7 378.5 412.0 C379.2 417.3 379.7 424.2 380.5 430.0 C381.3 435.8 382.2 441.7 383.2 447.0 C384.2 452.3 385.4 457.2 386.3 462.0 C387.2 466.8 387.8 471.3 388.5 476.0 C389.2 480.7 389.8 485.5 390.5 490.0 C391.2 494.5 391.7 499.6 392.5 503.0 C393.3 506.4 394.2 508.5 395.5 510.5 C396.8 512.5 398.5 514.0 400.0 515.0 C401.5 516.0 403.0 516.8 404.5 516.5 C406.0 516.2 407.5 515.1 409.0 513.5 C410.5 511.9 412.2 509.4 413.5 507.0 C414.8 504.6 416.1 501.0 417.0 499.0 C417.9 497.0 418.3 496.6 419.0 495.0 C419.7 493.4 420.2 491.8 421.0 489.5 C421.8 487.2 422.8 483.9 424.0 481.0 C425.2 478.1 426.8 475.2 428.0 472.0 C429.2 468.8 430.4 465.7 431.5 462.0 C432.6 458.3 433.5 454.2 434.5 450.0 C435.5 445.8 436.4 441.7 437.5 437.0 C438.6 432.3 439.8 427.2 441.0 422.0 C442.2 416.8 443.4 411.3 444.5 406.0 C445.6 400.7 446.5 394.8 447.8 390.0 C449.1 385.2 450.8 381.3 452.5 377.0 C454.2 372.7 456.2 369.1 458.0 364.4 C459.8 359.7 461.3 354.1 463.0 349.0 C464.7 343.9 466.6 338.0 468.2 334.0 C469.8 330.0 471.0 327.4 472.5 325.0 C474.0 322.6 475.5 321.3 477.1 319.8 C478.7 318.3 480.5 316.9 482.0 316.0 C483.5 315.1 484.5 314.7 486.0 314.7 C487.5 314.7 489.3 315.1 491.0 316.0 C492.7 316.9 494.6 317.8 496.3 319.8 C498.1 321.8 499.8 324.8 501.5 328.0 C503.2 331.2 504.8 335.2 506.5 339.0 C508.2 342.8 509.8 346.8 511.5 351.0 C513.2 355.2 515.1 360.1 516.6 364.4 C518.1 368.7 519.2 372.7 520.5 377.0 C521.8 381.3 523.0 385.0 524.3 390.0 C525.6 395.0 527.0 401.0 528.5 407.0 C530.0 413.0 531.9 420.0 533.2 426.0 C534.5 432.0 535.3 437.6 536.5 443.0 C537.7 448.4 539.0 454.1 540.3 458.4 C541.5 462.7 542.8 465.8 544.0 469.0 C545.2 472.2 545.9 475.1 547.5 477.5 C549.1 479.9 551.3 483.7 553.5 483.5 C555.7 483.3 558.5 480.2 560.7 476.4 C562.9 472.6 564.5 466.6 566.7 460.8 C568.9 455.0 571.5 448.0 573.9 441.6 C576.3 435.2 578.6 429.3 581.0 422.4 C583.4 415.5 585.9 406.7 588.0 400.0 C590.1 393.3 592.6 385.0 593.5 382.0" stroke-dasharray="2 1.5"/>
<path d="M326.5 567.0 C326.8 565.3 327.6 560.5 328.2 557.0 C328.8 553.5 329.4 549.7 330.0 546.0 C330.6 542.3 331.2 538.5 331.8 535.0 C332.4 531.5 332.8 528.7 333.5 525.0 C334.2 521.3 335.0 517.2 335.8 513.0 C336.6 508.8 337.6 504.2 338.5 500.0 C339.4 495.8 340.2 491.8 341.0 488.0 C341.8 484.2 342.6 480.8 343.3 477.0 C344.1 473.2 344.8 468.7 345.5 465.0 C346.2 461.3 347.0 458.3 347.8 455.0 C348.6 451.7 349.6 448.3 350.5 445.0 C351.4 441.7 352.3 439.0 353.2 435.0 C354.1 431.0 354.9 426.0 355.6 421.0 C356.3 416.0 356.9 409.2 357.6 405.0 C358.3 400.8 359.1 398.3 360.0 396.0 C360.9 393.7 362.1 392.2 363.0 391.0 C363.9 389.8 364.7 389.0 365.5 388.5 C366.3 388.0 366.9 387.9 367.7 388.0 C368.4 388.1 369.2 388.3 370.0 389.0 C370.8 389.7 371.7 390.5 372.5 392.0 C373.3 393.5 374.2 395.3 375.0 398.0 C375.8 400.7 376.7 403.5 377.5 408.0 C378.3 412.5 379.1 418.8 380.0 425.0 C380.9 431.2 382.0 439.0 383.0 445.0 C384.0 451.0 385.1 456.0 386.0 461.0 C386.9 466.0 387.6 470.5 388.3 475.0 C389.1 479.5 389.7 484.2 390.5 488.0 C391.3 491.8 392.2 495.7 393.0 498.0 C393.8 500.3 394.1 500.7 395.5 502.0 C396.9 503.3 399.6 505.1 401.5 506.0 C403.4 506.9 405.1 508.0 406.7 507.5 C408.3 507.0 409.8 504.6 411.2 503.0 C412.6 501.4 413.7 499.3 415.0 498.0 C416.3 496.7 418.0 496.4 419.0 495.0 C420.0 493.6 420.2 491.8 421.0 489.5 C421.8 487.2 422.8 483.9 424.0 481.0 C425.2 478.1 426.8 475.2 428.0 472.0 C429.2 468.8 430.4 465.7 431.5 462.0 C432.6 458.3 433.5 454.2 434.5 450.0 C435.5 445.8 436.4 441.7 437.5 437.0 C438.6 432.3 439.8 427.2 441.0 422.0 C442.2 416.8 443.4 411.3 444.5 406.0 C445.6 400.7 446.5 394.8 447.8 390.0 C449.1 385.2 450.8 381.3 452.5 377.0 C454.2 372.7 456.2 369.1 458.0 364.4 C459.8 359.7 461.3 354.1 463.0 349.0 C464.7 343.9 466.6 338.0 468.2 334.0 C469.8 330.0 471.0 327.4 472.5 325.0 C474.0 322.6 475.5 321.3 477.1 319.8 C478.7 318.3 480.5 316.9 482.0 316.0 C483.5 315.1 484.5 314.7 486.0 314.7 C487.5 314.7 489.3 315.1 491.0 316.0 C492.7 316.9 494.6 317.8 496.3 319.8 C498.1 321.8 499.8 324.8 501.5 328.0 C503.2 331.2 504.8 335.2 506.5 339.0 C508.2 342.8 509.8 346.8 511.5 351.0 C513.2 355.2 515.1 360.1 516.6 364.4 C518.1 368.7 519.2 372.7 520.5 377.0 C521.8 381.3 523.0 385.0 524.3 390.0 C525.6 395.0 527.0 401.0 528.5 407.0 C530.0 413.0 531.9 420.0 533.2 426.0 C534.5 432.0 535.3 437.6 536.5 443.0 C537.7 448.4 539.0 454.1 540.3 458.4 C541.5 462.7 542.8 465.8 544.0 469.0 C545.2 472.2 545.9 475.1 547.5 477.5 C549.1 479.9 551.3 483.7 553.5 483.5 C555.7 483.3 558.5 480.2 560.7 476.4 C562.9 472.6 564.5 466.6 566.7 460.8 C568.9 455.0 571.5 448.0 573.9 441.6 C576.3 435.2 578.6 429.3 581.0 422.4 C583.4 415.5 585.9 406.7 588.0 400.0 C590.1 393.3 592.6 385.0 593.5 382.0" stroke-dasharray="2 1.5"/>
<path d="M326.5 567.0 C326.6 566.5 327.1 565.8 327.4 563.8 C327.7 561.8 327.9 560.0 328.5 554.8 C329.1 549.6 330.0 539.1 330.7 532.4 C331.4 525.7 331.9 520.0 332.5 514.4 C333.1 508.8 333.5 503.9 334.1 498.7 C334.8 493.5 335.6 488.6 336.4 483.0 C337.1 477.4 337.9 469.9 338.6 465.0 C339.4 460.1 340.1 456.9 340.9 453.7 C341.7 450.5 342.6 448.1 343.5 446.0 C344.4 443.9 345.5 442.6 346.5 441.3 C347.5 440.1 348.6 439.4 349.5 438.5 C350.4 437.6 351.2 437.4 352.0 436.0 C352.8 434.6 353.8 432.2 354.5 430.0 C355.2 427.8 355.8 425.0 356.5 423.0 C357.2 421.0 357.8 419.5 358.5 418.0 C359.2 416.5 360.2 415.3 361.0 414.0 C361.8 412.7 362.4 411.1 363.2 410.0 C363.9 408.9 364.7 407.9 365.5 407.7 C366.3 407.4 367.2 408.2 368.0 408.5 C368.8 408.8 369.2 409.4 370.0 409.2 C370.8 408.9 372.2 406.9 373.0 407.0 C373.8 407.1 374.0 408.5 374.5 410.0 C375.0 411.5 375.5 413.7 376.0 416.0 C376.5 418.3 376.9 421.3 377.5 424.0 C378.1 426.7 378.7 428.5 379.5 432.0 C380.3 435.5 381.5 440.7 382.5 445.0 C383.5 449.3 384.6 453.5 385.5 458.0 C386.4 462.5 387.2 467.7 388.0 472.0 C388.8 476.3 389.3 480.7 390.0 484.0 C390.7 487.3 391.2 490.3 392.0 492.0 C392.8 493.7 393.7 492.9 395.0 494.0 C396.3 495.1 398.2 497.2 400.0 498.5 C401.8 499.8 404.1 501.9 406.0 502.0 C407.9 502.1 409.7 499.8 411.2 499.0 C412.7 498.2 413.7 497.7 415.0 497.0 C416.3 496.3 418.0 496.2 419.0 495.0 C420.0 493.8 420.2 491.8 421.0 489.5 C421.8 487.2 422.8 483.9 424.0 481.0 C425.2 478.1 426.8 475.2 428.0 472.0 C429.2 468.8 430.4 465.7 431.5 462.0 C432.6 458.3 433.5 454.2 434.5 450.0 C435.5 445.8 436.4 441.7 437.5 437.0 C438.6 432.3 439.8 427.2 441.0 422.0 C442.2 416.8 443.4 411.3 444.5 406.0 C445.6 400.7 446.5 394.8 447.8 390.0 C449.1 385.2 450.8 381.3 452.5 377.0 C454.2 372.7 456.2 369.1 458.0 364.4 C459.8 359.7 461.3 354.1 463.0 349.0 C464.7 343.9 466.6 338.0 468.2 334.0 C469.8 330.0 471.0 327.4 472.5 325.0 C474.0 322.6 475.5 321.3 477.1 319.8 C478.7 318.3 480.5 316.9 482.0 316.0 C483.5 315.1 484.5 314.7 486.0 314.7 C487.5 314.7 489.3 315.1 491.0 316.0 C492.7 316.9 494.6 317.8 496.3 319.8 C498.1 321.8 499.8 324.8 501.5 328.0 C503.2 331.2 504.8 335.2 506.5 339.0 C508.2 342.8 509.8 346.8 511.5 351.0 C513.2 355.2 515.1 360.1 516.6 364.4 C518.1 368.7 519.2 372.7 520.5 377.0 C521.8 381.3 523.0 385.0 524.3 390.0 C525.6 395.0 527.0 401.0 528.5 407.0 C530.0 413.0 531.9 420.0 533.2 426.0 C534.5 432.0 535.3 437.6 536.5 443.0 C537.7 448.4 539.0 454.1 540.3 458.4 C541.5 462.7 542.8 465.8 544.0 469.0 C545.2 472.2 545.9 475.1 547.5 477.5 C549.1 479.9 551.3 483.7 553.5 483.5 C555.7 483.3 558.5 480.2 560.7 476.4 C562.9 472.6 564.5 466.6 566.7 460.8 C568.9 455.0 571.5 448.0 573.9 441.6 C576.3 435.2 578.6 429.3 581.0 422.4 C583.4 415.5 585.9 406.7 588.0 400.0 C590.1 393.3 592.6 385.0 593.5 382.0"/>
</g>
<path d="M424.0 480.8 L424.3 480.5 L424.7 479.6 L425.2 478.4 L425.8 477.0 L426.4 476.1 L426.9 474.8 L427.5 473.3 L428.0 472.1 L428.5 470.7 L428.9 469.3 L429.4 468.4 L429.8 467.4 L430.2 465.7 L430.7 465.0 L431.1 463.3 L431.5 461.9 L431.9 460.4 L432.3 459.7 L432.7 458.0 L433.0 456.6 L433.4 454.9 L433.8 452.9 L434.1 451.6 L434.5 450.2 L434.9 448.3 L435.2 447.4 L435.6 445.4 L436.0 443.6 L436.3 442.6 L436.7 440.4 L437.1 439.3 L437.5 437.2 L437.9 435.6 L438.3 433.6 L438.8 431.9 L439.2 429.8 L439.7 427.8 L440.1 426.5 L440.6 424.1 L441.0 422.6 L441.4 420.3 L441.9 418.9 L442.3 416.9 L442.8 414.8 L443.2 412.8 L443.6 410.6 L444.1 408.8 L444.5 406.3 L444.9 404.6 L445.3 402.9 L445.7 400.3 L446.1 398.9 L446.5 396.8 L446.9 394.5 L447.3 392.6 L447.8 390.8 L448.3 389.0 L448.9 387.9 L449.4 385.8 L450.0 384.0 L450.6 382.5 L451.2 381.5 L451.9 380.2 L452.5 378.3 L453.2 376.8 L453.8 375.4 L454.5 374.1 L455.2 372.3 L455.9 371.1 L456.6 369.6 L457.3 368.1 L458.0 366.2 L458.6 364.5 L459.3 362.8 L459.9 361.5 L460.5 359.1 L461.1 357.4 L461.7 355.3 L462.4 353.3 L463.0 351.5 L463.6 350.2 L464.3 348.3 L465.0 346.1 L465.6 344.5 L466.3 342.7 L467.0 341.1 L467.6 339.5 L468.2 337.6 L468.8 336.7 L469.3 335.5 L469.9 334.0 L470.4 333.2 L470.9 331.9 L471.4 330.9 L472.0 330.0 L472.5 329.7 L473.1 328.3 L473.6 327.6 L474.2 327.6 L474.8 327.0 L475.3 326.2 L475.9 326.0 L476.5 324.9 L477.1 324.6 L477.7 324.1 L478.3 323.7 L479.0 323.1 L479.6 322.5 L480.2 322.3 L480.8 322.4 L481.4 322.1 L482.0 321.6 L482.5 321.1 L483.0 320.7 L483.5 321.0 L484.0 320.5 L484.5 320.6 L485.0 319.9 L485.5 320.0 L486.0 320.5 L486.6 320.5 L487.2 320.6 L487.8 320.4 L488.4 320.4 L489.1 320.7 L489.7 321.1 L490.4 320.9 L491.0 321.4 L491.6 321.4 L492.3 322.1 L493.0 321.8 L493.6 322.7 L494.3 323.3 L495.0 323.1 L495.6 324.1 L496.3 324.7 L497.0 325.6 L497.6 326.2 L498.3 326.8 L498.9 327.8 L499.6 329.2 L500.2 330.2 L500.9 330.7 L501.5 331.7 L502.1 332.9 L502.8 334.0 L503.4 335.6 L504.0 336.6 L504.6 338.5 L505.3 339.7 L505.9 340.6 L506.5 342.2 L507.1 343.4 L507.7 344.9 L508.4 346.0 L509.0 347.4 L509.6 348.8 L510.2 350.4 L510.9 352.1 L511.5 353.4 L512.1 354.6 L512.8 356.6 L513.5 358.4 L514.1 359.9 L514.8 361.5 L515.4 362.5 L516.0 364.5 L516.6 365.7 L517.1 367.8 L517.7 368.9 L518.2 370.8 L518.6 371.9 L519.1 373.8 L519.6 375.0 L520.0 376.3 L520.5 378.1 L521.0 379.6 L521.4 381.6 L521.9 382.6 L522.4 384.2 L522.9 385.8 L523.3 387.7 L523.8 388.7 L524.3 390.9 L524.8 392.7 L525.3 394.9 L525.8 397.1 L526.3 398.7 L526.9 401.1 L527.4 403.1 L527.9 405.4 L528.5 407.2 L529.1 410.0 L529.7 412.5 L530.3 414.4 L530.9 416.7 L531.5 419.7 L532.1 421.3 L532.7 423.6 L533.2 425.9 L533.7 428.7 L534.1 430.8 L534.5 432.7 L534.9 435.0 L535.3 436.6 L535.7 439.1 L536.1 441.0 L536.5 443.0 L537.0 444.9 L537.4 447.0 L537.9 448.8 L538.4 450.6 L538.9 452.9 L539.3 454.5 L539.8 456.7 L540.3 458.4 L540.8 459.8 L541.2 461.1 L541.7 462.2 L542.2 463.6 L542.6 464.9 L543.1 466.2 L543.5 467.6 L544.0 468.1 L544.4 469.5 L544.8 470.6 L545.2 471.9 L545.6 473.1 L546.0 474.0 L546.5 474.9 L546.9 475.9 L547.5 476.7 L548.1 477.8 L548.8 478.6 L549.5 479.6 L550.3 480.2 L551.1 481.5 L551.9 481.7 L552.7 482.3 L553.5 482.6 L554.4 482.5 L555.2 482.1 L556.2 480.7 L557.1 480.1 L558.0 479.1 L559.0 478.1 L559.8 476.6 L560.7 475.7 L561.5 473.8 L562.3 472.4 L563.0 471.1 L563.7 469.0 L564.4 466.8 L565.1 464.4 L565.9 463.0 L566.7 460.6 L567.5 458.1 L568.4 455.9 L569.3 453.8 L570.2 451.4 L571.2 448.6 L572.1 446.7 L573.0 443.8 L573.9 441.3 L574.8 439.5 L575.7 436.6 L576.6 434.7 L577.5 431.9 L578.3 429.9 L579.2 427.2 L580.1 424.8 L581.0 422.7 L581.9 419.7 L582.8 416.9 L583.7 414.1 L584.6 410.9 L585.5 408.0 L586.4 405.3 L587.2 402.4 L588.0 399.8 L588.8 397.8 L589.6 394.4 L590.4 392.4 L591.2 389.9 L591.9 387.4 L592.5 384.7 L593.1 383.4 L593.5 381.6" fill="none" stroke="#444" stroke-width="1.1" stroke-dasharray="1.5 2"/>
<path d="M424.0 481.1 L424.3 480.5 L424.7 479.2 L425.2 478.0 L425.8 477.2 L426.4 475.5 L426.9 474.4 L427.5 473.2 L428.0 472.3 L428.5 470.7 L428.9 469.4 L429.4 468.7 L429.8 467.5 L430.2 466.0 L430.7 464.4 L431.1 463.2 L431.5 462.0 L431.9 460.7 L432.3 459.0 L432.7 458.0 L433.0 456.5 L433.4 455.1 L433.8 453.5 L434.1 451.3 L434.5 450.2 L434.9 448.2 L435.2 447.3 L435.6 445.6 L436.0 444.0 L436.3 441.9 L436.7 440.2 L437.1 439.1 L437.5 437.2 L437.9 435.5 L438.3 433.5 L438.8 432.0 L439.2 429.7 L439.7 427.8 L440.1 425.9 L440.6 424.0 L441.0 422.3 L441.4 420.6 L441.9 417.9 L442.3 415.9 L442.8 414.3 L443.2 412.4 L443.6 410.0 L444.1 408.1 L444.5 405.9 L444.9 403.9 L445.3 402.2 L445.7 400.3 L446.1 398.3 L446.5 395.8 L446.9 393.8 L447.3 392.6 L447.8 390.4 L448.3 388.6 L448.9 387.1 L449.4 385.5 L450.0 383.8 L450.6 381.9 L451.2 380.9 L451.9 378.9 L452.5 377.2 L453.2 375.9 L453.8 374.6 L454.5 373.2 L455.2 371.3 L455.9 370.3 L456.6 368.6 L457.3 366.7 L458.0 365.6 L458.6 363.8 L459.3 362.1 L459.9 360.0 L460.5 357.7 L461.1 356.2 L461.7 354.4 L462.4 352.2 L463.0 350.6 L463.6 348.8 L464.3 346.4 L465.0 344.9 L465.6 342.9 L466.3 340.9 L467.0 338.5 L467.6 337.1 L468.2 335.8 L468.8 334.4 L469.3 333.2 L469.9 331.9 L470.4 330.4 L470.9 330.0 L471.4 328.8 L472.0 328.2 L472.5 326.7 L473.1 326.6 L473.6 325.5 L474.2 325.0 L474.8 324.4 L475.3 323.9 L475.9 323.0 L476.5 322.3 L477.1 322.0 L477.7 321.3 L478.3 321.0 L479.0 320.8 L479.6 319.9 L480.2 319.3 L480.8 318.8 L481.4 318.7 L482.0 318.5 L482.5 317.8 L483.0 318.0 L483.5 317.5 L484.0 317.2 L484.5 317.7 L485.0 317.3 L485.5 317.5 L486.0 317.2 L486.6 316.9 L487.2 317.1 L487.8 317.3 L488.4 317.6 L489.1 317.9 L489.7 318.1 L490.4 318.3 L491.0 318.2 L491.6 318.7 L492.3 318.9 L493.0 319.4 L493.6 319.6 L494.3 320.3 L495.0 320.7 L495.6 320.9 L496.3 322.2 L497.0 322.8 L497.6 323.8 L498.3 324.7 L498.9 325.7 L499.6 326.9 L500.2 327.5 L500.9 328.6 L501.5 329.4 L502.1 331.2 L502.8 332.3 L503.4 333.6 L504.0 335.3 L504.6 336.0 L505.3 337.5 L505.9 339.3 L506.5 340.7 L507.1 341.8 L507.7 342.9 L508.4 344.6 L509.0 346.4 L509.6 347.6 L510.2 349.0 L510.9 350.5 L511.5 352.2 L512.1 353.7 L512.8 355.4 L513.5 357.2 L514.1 358.8 L514.8 360.1 L515.4 361.7 L516.0 363.8 L516.6 365.4 L517.1 367.1 L517.7 368.1 L518.2 370.1 L518.6 371.7 L519.1 372.6 L519.6 374.3 L520.0 376.1 L520.5 377.3 L521.0 379.4 L521.4 380.4 L521.9 382.3 L522.4 383.5 L522.9 385.0 L523.3 386.6 L523.8 388.6 L524.3 390.6 L524.8 392.1 L525.3 394.4 L525.8 396.2 L526.3 398.6 L526.9 400.5 L527.4 402.6 L527.9 404.7 L528.5 406.9 L529.1 409.7 L529.7 411.8 L530.3 414.0 L530.9 417.0 L531.5 419.2 L532.1 421.1 L532.7 424.0 L533.2 426.2 L533.7 428.3 L534.1 430.6 L534.5 433.1 L534.9 434.7 L535.3 437.1 L535.7 439.1 L536.1 441.0 L536.5 443.0 L537.0 445.3 L537.4 447.3 L537.9 449.1 L538.4 451.2 L538.9 452.9 L539.3 455.2 L539.8 456.4 L540.3 458.6 L540.8 460.0 L541.2 461.3 L541.7 462.9 L542.2 464.2 L542.6 465.1 L543.1 466.6 L543.5 467.6 L544.0 469.3 L544.4 470.1 L544.8 471.2 L545.2 472.3 L545.6 473.2 L546.0 474.4 L546.5 475.3 L546.9 476.7 L547.5 477.8 L548.1 478.3 L548.8 479.2 L549.5 480.6 L550.3 481.2 L551.1 482.3 L551.9 483.2 L552.7 483.2 L553.5 483.7 L554.4 483.3 L555.2 482.5 L556.2 482.0 L557.1 481.4 L558.0 479.9 L559.0 478.8 L559.8 477.8 L560.7 476.7 L561.5 474.9 L562.3 473.3 L563.0 470.9 L563.7 469.2 L564.4 467.1 L565.1 465.5 L565.9 462.9 L566.7 461.0 L567.5 458.2 L568.4 456.3 L569.3 454.2 L570.2 451.6 L571.2 449.0 L572.1 446.2 L573.0 444.4 L573.9 441.3 L574.8 439.6 L575.7 437.1 L576.6 434.7 L577.5 432.2 L578.3 429.6 L579.2 427.3 L580.1 425.1 L581.0 422.5 L581.9 419.6 L582.8 417.2 L583.7 413.7 L584.6 411.0 L585.5 407.9 L586.4 405.2 L587.2 402.8 L588.0 400.2 L588.8 397.1 L589.6 394.6 L590.4 391.8 L591.2 389.7 L591.9 387.2 L592.5 384.9 L593.1 383.3 L593.5 382.3" fill="none" stroke="#444" stroke-width="1.1" stroke-dasharray="2.5 1.5"/>
<path d="M424.0 480.9 L424.3 480.5 L424.7 479.5 L425.2 478.3 L425.8 477.2 L426.4 475.7 L426.9 474.3 L427.5 473.2 L428.0 471.8 L428.5 470.7 L428.9 469.3 L429.4 468.7 L429.8 467.1 L430.2 465.7 L430.7 464.3 L431.1 463.1 L431.5 462.3 L431.9 460.4 L432.3 459.3 L432.7 457.4 L433.0 456.3 L433.4 454.6 L433.8 453.3 L434.1 451.5 L434.5 449.8 L434.9 448.2 L435.2 446.9 L435.6 445.5 L436.0 443.8 L436.3 442.0 L436.7 440.2 L437.1 439.0 L437.5 437.2 L437.9 434.9 L438.3 433.5 L438.8 431.7 L439.2 429.7 L439.7 428.1 L440.1 426.1 L440.6 423.6 L441.0 422.3 L441.4 419.8 L441.9 417.8 L442.3 416.3 L442.8 413.7 L443.2 411.8 L443.6 410.0 L444.1 407.7 L444.5 405.6 L444.9 404.0 L445.3 401.8 L445.7 399.9 L446.1 397.8 L446.5 395.9 L446.9 393.9 L447.3 391.9 L447.8 390.1 L448.3 388.0 L448.9 386.4 L449.4 384.6 L450.0 383.4 L450.6 381.5 L451.2 379.8 L451.9 378.4 L452.5 376.5 L453.2 374.7 L453.8 373.4 L454.5 371.7 L455.2 370.0 L455.9 368.5 L456.6 367.2 L457.3 365.8 L458.0 363.5 L458.6 362.1 L459.3 359.8 L459.9 358.2 L460.5 356.0 L461.1 354.1 L461.7 352.3 L462.4 350.1 L463.0 348.1 L463.6 346.5 L464.3 344.0 L465.0 342.1 L465.6 340.4 L466.3 338.5 L467.0 336.8 L467.6 334.4 L468.2 333.1 L468.8 331.4 L469.3 330.3 L469.9 329.2 L470.4 327.5 L470.9 326.6 L471.4 326.0 L472.0 324.6 L472.5 323.9 L473.1 323.2 L473.6 322.0 L474.2 321.7 L474.8 320.4 L475.3 320.1 L475.9 319.3 L476.5 318.9 L477.1 318.2 L477.7 317.5 L478.3 317.5 L479.0 316.5 L479.6 316.3 L480.2 315.8 L480.8 315.6 L481.4 315.2 L482.0 314.6 L482.5 314.0 L483.0 314.2 L483.5 313.4 L484.0 313.9 L484.5 313.2 L485.0 313.1 L485.5 313.0 L486.0 313.1 L486.6 313.5 L487.2 313.6 L487.8 313.6 L488.4 313.7 L489.1 313.5 L489.7 313.8 L490.4 314.1 L491.0 314.5 L491.6 315.2 L492.3 315.6 L493.0 315.3 L493.6 316.4 L494.3 316.9 L495.0 317.1 L495.6 317.9 L496.3 318.7 L497.0 319.1 L497.6 320.3 L498.3 321.6 L498.9 322.5 L499.6 323.7 L500.2 324.2 L500.9 325.9 L501.5 326.9 L502.1 328.5 L502.8 329.2 L503.4 330.9 L504.0 332.0 L504.6 334.0 L505.3 335.4 L505.9 336.3 L506.5 338.0 L507.1 339.3 L507.7 341.2 L508.4 342.7 L509.0 343.7 L509.6 346.0 L510.2 347.5 L510.9 348.7 L511.5 350.4 L512.1 351.9 L512.8 353.8 L513.5 355.3 L514.1 357.1 L514.8 359.1 L515.4 360.3 L516.0 362.1 L516.6 364.2 L517.1 365.4 L517.7 366.8 L518.2 369.1 L518.6 370.1 L519.1 371.8 L519.6 373.3 L520.0 374.9 L520.5 376.6 L521.0 378.3 L521.4 379.5 L521.9 381.4 L522.4 382.6 L522.9 384.2 L523.3 386.0 L523.8 387.7 L524.3 389.6 L524.8 391.5 L525.3 394.0 L525.8 395.9 L526.3 397.9 L526.9 400.4 L527.4 402.5 L527.9 404.5 L528.5 407.0 L529.1 409.4 L529.7 411.6 L530.3 414.2 L530.9 416.5 L531.5 419.2 L532.1 421.1 L532.7 423.8 L533.2 426.4 L533.7 428.3 L534.1 430.8 L534.5 432.3 L534.9 435.0 L535.3 436.7 L535.7 439.2 L536.1 441.0 L536.5 443.2 L537.0 445.0 L537.4 447.1 L537.9 449.6 L538.4 451.4 L538.9 453.4 L539.3 454.9 L539.8 456.9 L540.3 459.1 L540.8 460.1 L541.2 461.9 L541.7 463.4 L542.2 464.6 L542.6 466.0 L543.1 467.6 L543.5 468.7 L544.0 469.5 L544.4 470.8 L544.8 472.0 L545.2 473.4 L545.6 474.5 L546.0 475.2 L546.5 476.6 L546.9 477.4 L547.5 478.1 L548.1 479.3 L548.8 480.4 L549.5 481.4 L550.3 482.7 L551.1 483.9 L551.9 484.5 L552.7 484.7 L553.5 485.0 L554.4 484.5 L555.2 484.1 L556.2 483.6 L557.1 482.0 L558.0 481.2 L559.0 479.9 L559.8 478.5 L560.7 477.1 L561.5 475.3 L562.3 474.0 L563.0 472.3 L563.7 469.7 L564.4 467.5 L565.1 465.5 L565.9 463.6 L566.7 460.9 L567.5 459.1 L568.4 456.2 L569.3 454.1 L570.2 451.8 L571.2 449.2 L572.1 446.2 L573.0 444.5 L573.9 441.9 L574.8 439.3 L575.7 437.2 L576.6 434.6 L577.5 432.0 L578.3 429.8 L579.2 427.7 L580.1 424.9 L581.0 422.0 L581.9 419.5 L582.8 416.7 L583.7 414.1 L584.6 411.2 L585.5 408.2 L586.4 405.3 L587.2 403.0 L588.0 399.9 L588.8 397.6 L589.6 394.5 L590.4 392.1 L591.2 389.3 L591.9 386.9 L592.5 385.0 L593.1 383.1 L593.5 381.9" fill="none" stroke="#444" stroke-width="1.1" stroke-dasharray="3 2"/>
<g fill="none" stroke="#222" stroke-width="1.55" stroke-linejoin="round">
<path d="M730.0 595.0 C730.1 592.5 730.2 589.2 730.5 580.0 C730.8 570.8 731.2 553.3 731.5 540.0 C731.8 526.7 732.2 511.7 732.5 500.0 C732.8 488.3 733.0 481.7 733.3 470.0 C733.6 458.3 734.1 441.9 734.5 430.0 C734.9 418.1 735.2 408.8 735.6 398.5 C736.0 388.2 736.3 375.5 736.7 368.0 C737.1 360.5 737.5 353.6 737.9 353.6 C738.3 353.6 738.7 360.5 739.3 368.0 C739.9 375.5 740.8 386.5 741.4 398.5 C742.0 410.5 742.5 428.1 743.0 440.0 C743.5 451.9 743.9 458.3 744.4 470.0 C744.9 481.7 745.4 497.0 746.0 510.0 C746.6 523.0 747.2 538.2 747.8 548.0 C748.4 557.8 748.9 564.0 749.4 569.0 C749.9 574.0 750.1 577.8 750.5 578.0 C750.9 578.2 751.2 575.7 751.7 570.0 C752.2 564.3 753.0 554.8 753.6 544.0 C754.2 533.2 755.0 516.5 755.6 505.0 C756.2 493.5 756.7 485.8 757.3 475.0 C757.9 464.2 758.7 450.0 759.2 440.0 C759.7 430.0 759.9 421.3 760.3 415.0 C760.6 408.7 760.9 402.4 761.3 402.4 C761.7 402.4 762.0 408.7 762.5 415.0 C763.0 421.3 763.3 430.8 764.0 440.0 C764.7 449.2 765.7 459.2 766.6 470.0 C767.5 480.8 768.6 494.8 769.5 505.0 C770.4 515.2 771.2 523.0 771.7 531.0 C772.2 539.0 772.3 550.7 772.6 553.0 C772.9 555.3 773.2 550.0 773.6 545.0 C774.0 540.0 774.2 531.3 774.8 523.0 C775.4 514.7 776.3 505.5 777.0 495.0 C777.7 484.5 778.5 474.2 779.2 460.0 C780.0 445.8 780.9 422.5 781.5 410.0 C782.1 397.5 782.5 392.2 783.0 385.0 C783.5 377.8 783.9 367.0 784.4 367.0 C784.9 367.0 785.4 376.2 786.0 385.0 C786.6 393.8 787.2 407.5 788.0 420.0 C788.8 432.5 789.8 448.3 790.5 460.0 C791.2 471.7 791.8 480.6 792.5 490.0 C793.2 499.4 793.9 516.5 794.5 516.5 C795.1 516.5 795.4 504.4 796.0 490.0 C796.6 475.6 797.6 455.0 798.3 430.0 C799.0 405.0 799.5 368.3 800.0 340.0 C800.5 311.7 801.0 286.9 801.4 260.0 C801.8 233.1 802.1 201.8 802.6 178.5 C803.1 155.2 803.7 135.3 804.2 120.0 C804.7 104.7 805.1 98.3 805.6 86.6 C806.1 74.9 806.7 61.3 807.2 50.0 C807.7 38.7 808.1 19.0 808.6 19.0 C809.1 19.0 809.7 38.7 810.2 50.0 C810.8 61.3 811.4 73.3 811.9 86.6 C812.4 99.9 812.8 114.7 813.2 130.0 C813.7 145.3 814.1 156.8 814.6 178.5 C815.1 200.2 815.6 233.1 816.2 260.0 C816.8 286.9 817.3 318.3 818.0 340.0 C818.7 361.7 819.5 374.7 820.2 390.0 C820.9 405.3 821.6 418.0 822.3 432.0 C823.0 446.0 823.7 460.7 824.4 474.0 C825.1 487.3 825.7 508.7 826.5 511.7 C827.3 514.7 828.2 500.3 829.0 492.0 C829.8 483.7 830.7 472.3 831.5 462.0 C832.3 451.7 833.3 437.8 834.0 430.0 C834.7 422.2 835.2 418.6 835.8 415.0 C836.3 411.4 836.7 408.8 837.3 408.5 C837.9 408.2 838.6 410.8 839.3 413.0 C840.0 415.2 840.8 417.1 841.6 422.0 C842.4 426.9 843.5 436.5 844.3 442.2 C845.1 447.9 845.6 452.1 846.3 456.0 C847.0 459.9 847.8 463.6 848.6 465.5 C849.4 467.4 850.1 467.8 851.0 467.5 C851.9 467.2 852.9 465.2 854.0 464.0 C855.1 462.8 856.5 462.0 857.7 460.0 C858.9 458.0 860.1 455.3 861.0 452.0 C861.9 448.7 862.6 444.5 863.2 440.0 C863.8 435.5 864.3 430.0 864.8 425.0 C865.3 420.0 865.8 415.8 866.4 410.0 C867.0 404.2 867.9 398.3 868.5 390.0 C869.1 381.7 869.9 365.0 870.2 360.0"/>
<path d="M730.0 595.0 C730.1 592.5 730.2 589.2 730.5 580.0 C730.8 570.8 731.2 553.3 731.5 540.0 C731.8 526.7 732.2 511.7 732.5 500.0 C732.8 488.4 733.0 481.7 733.3 470.1 C733.6 458.6 734.1 442.3 734.5 430.6 C734.9 419.0 735.2 410.1 735.6 400.2 C736.0 390.3 736.3 378.3 736.7 371.2 C737.1 364.1 737.5 357.6 737.9 357.6 C738.3 357.6 738.7 364.0 739.3 370.9 C739.9 377.8 740.8 387.5 741.4 399.1 C742.0 410.6 742.5 428.2 743.0 440.1 C743.5 451.9 743.9 458.3 744.4 470.0 C744.9 481.7 745.4 496.9 746.0 510.2 C746.6 523.5 747.2 539.3 747.8 549.9 C748.4 560.5 748.9 568.3 749.4 573.9 C749.9 579.6 750.1 583.9 750.5 584.0 C750.9 584.1 751.2 581.2 751.7 574.8 C752.2 568.3 753.0 556.9 753.6 545.3 C754.2 533.7 755.0 516.7 755.6 505.2 C756.2 493.6 756.7 485.8 757.3 475.9 C757.9 466.1 758.7 454.4 759.2 445.9 C759.7 437.5 759.9 430.5 760.3 425.2 C760.6 420.0 760.9 414.5 761.3 414.4 C761.7 414.3 762.0 419.6 762.5 424.5 C763.0 429.4 763.3 436.1 764.0 443.7 C764.7 451.3 765.7 460.2 766.6 470.1 C767.5 480.0 768.6 494.3 769.5 503.3 C770.4 512.3 771.2 517.0 771.7 524.0 C772.2 530.9 772.3 542.6 772.6 545.0 C772.9 547.4 773.2 542.5 773.6 538.2 C774.0 533.9 774.2 526.6 774.8 519.3 C775.4 512.1 776.3 504.5 777.0 494.6 C777.7 484.8 778.5 473.9 779.2 460.1 C780.0 446.2 780.9 423.3 781.5 411.6 C782.1 399.8 782.5 395.8 783.0 389.4 C783.5 383.0 783.9 373.1 784.4 373.0 C784.9 372.9 785.4 381.0 786.0 389.0 C786.6 396.9 787.2 409.0 788.0 420.7 C788.8 432.5 789.8 448.6 790.5 459.4 C791.2 470.2 791.8 477.6 792.5 485.8 C793.2 494.0 793.9 508.7 794.5 508.5 C795.1 508.3 795.4 497.6 796.0 484.4 C796.6 471.2 797.6 453.3 798.3 429.2 C799.0 405.1 799.5 368.1 800.0 339.9 C800.5 311.7 801.0 286.9 801.4 260.0 C801.8 233.1 802.1 201.8 802.6 178.6 C803.1 155.4 803.7 135.7 804.2 120.7 C804.7 105.7 805.1 99.8 805.6 88.8 C806.1 77.8 806.7 65.5 807.2 54.8 C807.7 44.2 808.1 25.1 808.6 25.0 C809.1 24.9 809.7 43.9 810.2 54.5 C810.8 65.1 811.4 75.7 811.9 88.4 C812.4 101.1 812.8 115.5 813.2 130.6 C813.7 145.6 814.1 157.0 814.6 178.6 C815.1 200.2 815.6 233.1 816.2 260.0 C816.8 286.9 817.3 318.3 818.0 340.0 C818.7 361.7 819.5 374.7 820.2 390.0 C820.9 405.3 821.6 418.0 822.3 432.0 C823.0 446.0 823.7 460.7 824.4 474.0 C825.1 487.3 825.9 509.0 826.5 511.7 C827.1 514.4 827.4 497.3 828.0 490.0 C828.6 482.7 829.3 475.0 830.0 468.0 C830.7 461.0 831.5 453.3 832.2 448.0 C832.9 442.7 833.5 438.5 834.2 436.0 C834.9 433.5 835.6 432.3 836.2 433.0 C836.8 433.7 837.4 436.8 838.0 440.0 C838.6 443.2 839.3 447.7 840.0 452.0 C840.7 456.3 841.3 462.5 842.0 466.0 C842.7 469.5 843.4 472.0 844.0 473.0 C844.6 474.0 844.9 473.2 845.5 472.0 C846.1 470.8 846.8 469.3 847.5 466.0 C848.2 462.7 848.8 457.0 849.5 452.0 C850.2 447.0 851.0 440.3 851.7 436.0 C852.5 431.7 853.2 428.2 854.0 426.0 C854.8 423.8 855.6 422.7 856.4 422.5 C857.1 422.3 857.8 424.2 858.5 425.0 C859.2 425.8 859.7 427.2 860.4 427.0 C861.1 426.8 861.8 425.5 862.5 424.0 C863.2 422.5 864.1 420.3 864.7 418.0 C865.4 415.7 865.8 414.7 866.4 410.0 C867.0 405.3 867.9 398.3 868.5 390.0 C869.1 381.7 869.9 365.0 870.2 360.0"/>
<path d="M730.0 595.0 C730.1 592.5 730.2 589.2 730.5 580.0 C730.8 570.8 731.2 553.3 731.5 540.0 C731.8 526.7 732.2 511.7 732.5 500.1 C732.8 488.5 733.0 481.7 733.3 470.3 C733.6 458.9 734.1 442.7 734.5 431.4 C734.9 420.1 735.2 411.7 735.6 402.4 C736.0 393.0 736.3 381.8 736.7 375.1 C737.1 368.5 737.5 362.7 737.9 362.6 C738.3 362.5 738.7 368.4 739.3 374.6 C739.9 380.8 740.8 388.8 741.4 399.8 C742.0 410.7 742.5 428.4 743.0 440.1 C743.5 451.8 743.9 458.4 744.4 470.0 C744.9 481.6 745.4 497.1 746.0 509.8 C746.6 522.5 747.2 537.1 747.8 546.1 C748.4 555.2 748.9 559.7 749.4 564.1 C749.9 568.4 750.1 571.8 750.5 572.0 C750.9 572.2 751.2 570.1 751.7 565.2 C752.2 560.4 753.0 552.7 753.6 542.7 C754.2 532.7 755.0 516.0 755.6 505.0 C756.2 494.0 756.7 485.7 757.3 476.8 C757.9 467.8 758.7 458.4 759.2 451.4 C759.7 444.3 759.9 438.9 760.3 434.6 C760.6 430.3 760.9 425.6 761.3 425.4 C761.7 425.2 762.0 429.6 762.5 433.3 C763.0 436.9 763.3 441.0 764.0 447.2 C764.7 453.3 765.7 461.1 766.6 470.2 C767.5 479.3 768.6 493.8 769.5 501.6 C770.4 509.4 771.2 511.0 771.7 516.9 C772.2 522.9 772.3 534.6 772.6 537.0 C772.9 539.4 773.2 534.9 773.6 531.4 C774.0 527.8 774.2 521.8 774.8 515.6 C775.4 509.4 776.3 503.5 777.0 494.3 C777.7 485.0 778.5 473.5 779.2 460.2 C780.0 446.9 780.9 424.9 781.5 414.4 C782.1 404.0 782.5 402.5 783.0 397.4 C783.5 392.4 783.9 384.2 784.4 384.0 C784.9 383.8 785.4 389.9 786.0 396.3 C786.6 402.6 787.2 411.7 788.0 422.1 C788.8 432.5 789.8 448.9 790.5 458.8 C791.2 468.7 791.8 474.6 792.5 481.6 C793.2 488.5 793.9 501.0 794.5 500.5 C795.1 500.0 795.4 490.9 796.0 478.8 C796.6 466.8 797.6 451.6 798.3 428.4 C799.0 405.3 799.5 367.9 800.0 339.9 C800.5 311.8 801.0 286.9 801.4 260.1 C801.8 233.2 802.1 201.8 802.6 178.9 C803.1 155.9 803.7 136.5 804.2 122.3 C804.7 108.2 805.1 103.3 805.6 94.0 C806.1 84.6 806.7 75.2 807.2 66.1 C807.7 56.9 808.1 39.2 808.6 39.0 C809.1 38.8 809.7 56.1 810.2 65.0 C810.8 74.0 811.4 81.4 811.9 92.6 C812.4 103.7 812.8 117.5 813.2 131.9 C813.7 146.3 814.1 157.5 814.6 178.9 C815.1 200.2 815.6 233.2 816.2 260.0 C816.8 286.9 817.3 318.3 818.0 340.0 C818.7 361.7 819.5 374.7 820.2 390.0 C820.9 405.3 821.4 421.7 822.3 432.0 C823.2 442.3 824.5 445.3 825.5 452.0 C826.5 458.7 827.7 465.7 828.3 472.0 C828.9 478.3 829.3 484.3 829.3 490.0 C829.2 495.7 828.5 502.2 828.0 506.0 C827.5 509.8 826.5 515.2 826.6 512.5 C826.7 509.8 827.9 497.1 828.5 490.0 C829.1 482.9 829.8 474.8 830.5 470.0 C831.2 465.2 831.8 461.8 832.5 461.0 C833.2 460.2 834.2 462.9 835.0 465.0 C835.8 467.1 836.5 471.4 837.5 473.5 C838.5 475.6 840.0 477.8 841.2 477.5 C842.5 477.2 844.0 473.9 845.0 472.0 C846.0 470.1 846.3 468.5 847.0 466.0 C847.7 463.5 848.2 460.5 849.0 457.0 C849.8 453.5 850.7 448.2 851.5 445.0 C852.3 441.8 853.1 439.5 854.0 438.0 C854.9 436.5 856.0 436.2 857.0 436.0 C858.0 435.8 859.1 438.0 860.0 437.0 C860.9 436.0 861.7 432.8 862.5 430.0 C863.3 427.2 864.0 423.3 864.6 420.0 C865.2 416.7 865.8 415.0 866.4 410.0 C867.0 405.0 867.9 398.3 868.5 390.0 C869.1 381.7 869.9 365.0 870.2 360.0"/>
<path d="M730.0 595.0 C730.1 592.5 730.2 589.2 730.5 580.0 C730.8 570.8 731.2 553.3 731.5 540.0 C731.8 526.7 732.2 511.7 732.5 500.1 C732.8 488.5 733.0 481.8 733.3 470.5 C733.6 459.2 734.1 443.2 734.5 432.2 C734.9 421.2 735.2 413.4 735.6 404.5 C736.0 395.7 736.3 385.3 736.7 379.1 C737.1 373.0 737.5 367.7 737.9 367.6 C738.3 367.5 738.7 372.8 739.3 378.2 C739.9 383.7 740.8 390.1 741.4 400.5 C742.0 410.8 742.5 428.6 743.0 440.2 C743.5 451.8 743.9 458.4 744.4 470.0 C744.9 481.6 745.4 497.1 746.0 509.6 C746.6 522.1 747.2 536.4 747.8 544.9 C748.4 553.4 748.9 556.9 749.4 560.8 C749.9 564.6 750.1 567.8 750.5 568.0 C750.9 568.2 751.2 566.4 751.7 562.1 C752.2 557.7 753.0 551.4 753.6 541.9 C754.2 532.3 755.0 515.9 755.6 504.9 C756.2 493.8 756.7 485.8 757.3 475.5 C757.9 465.1 758.7 452.2 759.2 443.0 C759.7 433.7 759.9 425.9 760.3 420.1 C760.6 414.4 760.9 408.5 761.3 408.4 C761.7 408.3 762.0 414.2 762.5 419.8 C763.0 425.3 763.3 433.5 764.0 441.9 C764.7 450.2 765.7 460.3 766.6 470.0 C767.5 479.7 768.6 493.3 769.5 500.1 C770.4 506.9 771.2 505.8 771.7 510.8 C772.2 515.8 772.3 527.6 772.6 530.0 C772.9 532.4 773.2 528.3 773.6 525.4 C774.0 522.5 774.2 517.6 774.8 512.4 C775.4 507.2 776.3 502.6 777.0 494.0 C777.7 485.3 778.5 473.1 779.2 460.3 C780.0 447.6 780.9 426.4 781.5 417.3 C782.1 408.1 782.5 409.2 783.0 405.5 C783.5 401.7 783.9 395.3 784.4 395.0 C784.9 394.7 785.4 398.8 786.0 403.6 C786.6 408.3 787.2 414.4 788.0 423.5 C788.8 432.6 789.8 449.2 790.5 458.3 C791.2 467.4 791.8 472.0 792.5 477.9 C793.2 483.7 793.9 494.2 794.5 493.5 C795.1 492.8 795.4 484.9 796.0 474.0 C796.6 463.0 797.6 450.1 798.3 427.7 C799.0 405.4 799.5 367.8 800.0 339.8 C800.5 311.9 801.0 286.9 801.4 260.1 C801.8 233.3 802.1 201.8 802.6 179.2 C803.1 156.5 803.7 137.5 804.2 124.3 C804.7 111.1 805.1 107.6 805.6 100.2 C806.1 92.8 806.7 87.1 807.2 79.8 C807.7 72.4 808.1 56.3 808.6 56.0 C809.1 55.7 809.7 70.9 810.2 77.8 C810.8 84.8 811.4 88.4 811.9 97.6 C812.4 106.9 812.8 119.9 813.2 133.5 C813.7 147.1 814.1 158.1 814.6 179.2 C815.1 200.3 815.6 233.3 816.2 260.1 C816.8 286.9 817.3 318.3 818.0 340.0 C818.7 361.7 819.5 374.7 820.2 390.0 C820.9 405.3 821.6 418.0 822.3 432.0 C823.0 446.0 823.7 460.7 824.4 474.0 C825.1 487.3 826.1 509.0 826.5 511.7 C826.9 514.4 826.8 496.9 827.0 490.0 C827.2 483.1 827.5 475.0 828.0 470.0 C828.5 465.0 829.3 463.0 830.0 460.0 C830.7 457.0 831.5 454.3 832.2 452.0 C832.9 449.7 833.5 446.7 834.2 446.0 C834.9 445.3 835.5 446.0 836.2 448.0 C836.9 450.0 837.7 454.7 838.5 458.0 C839.3 461.3 840.2 465.8 841.0 468.0 C841.8 470.2 842.2 471.3 843.0 471.0 C843.8 470.7 844.7 468.3 845.5 466.0 C846.3 463.7 847.1 460.2 848.0 457.0 C848.9 453.8 850.0 449.8 851.0 447.0 C852.0 444.2 852.9 442.0 854.0 440.0 C855.1 438.0 856.3 436.7 857.5 435.0 C858.7 433.3 859.9 432.5 861.0 430.0 C862.1 427.5 863.1 423.3 864.0 420.0 C864.9 416.7 865.6 415.0 866.4 410.0 C867.1 405.0 867.9 398.3 868.5 390.0 C869.1 381.7 869.9 365.0 870.2 360.0"/>
</g>
<path d="M866.4 409.6 L866.5 408.7 L866.7 407.2 L866.9 404.8 L867.1 403.9 L867.3 401.8 L867.6 399.1 L867.8 396.9 L868.1 394.0 L868.3 391.8 L868.5 389.8 L868.7 387.2 L868.9 384.2 L869.0 380.6 L869.2 377.8 L869.4 375.4 L869.5 371.6 L869.7 368.6 L869.9 365.2 L870.0 362.6 L870.2 359.9 L870.4 356.5 L870.5 353.6 L870.7 351.0 L870.8 348.0 L871.0 345.7 L871.2 343.5 L871.3 340.4 L871.5 338.1 L871.7 335.7 L871.9 332.7 L872.1 329.2 L872.4 326.6 L872.6 323.3 L872.9 320.5 L873.1 317.5 L873.4 315.3 L873.7 311.9 L873.9 309.3 L874.2 306.4 L874.5 304.7 L874.8 301.8 L875.1 299.6 L875.4 298.0 L875.7 295.7 L876.0 294.0 L876.4 292.1 L876.7 290.4 L877.0 289.9 L877.3 288.5 L877.6 288.9 L877.9 288.3 L878.2 288.9 L878.5 289.5 L878.8 290.1 L879.1 291.3 L879.4 293.6 L879.7 295.0 L880.0 296.5 L880.2 297.5 L880.5 299.0 L880.8 300.6 L881.0 302.8 L881.3 304.3 L881.5 305.5 L881.7 307.2 L882.0 308.8 L882.2 310.6 L882.4 313.0 L882.7 314.4 L882.9 315.9 L883.1 318.5 L883.4 320.1 L883.6 322.6 L883.8 324.6 L884.0 326.4 L884.3 328.5 L884.5 331.2 L884.7 332.8 L885.0 335.3 L885.2 336.7 L885.4 339.0 L885.7 341.2 L885.9 343.4 L886.2 345.1 L886.4 347.5 L886.6 349.1 L886.9 351.6 L887.1 353.6 L887.4 355.1 L887.6 356.7 L887.8 359.5 L888.1 361.2 L888.3 363.3 L888.6 365.4 L888.8 367.3 L889.0 369.2 L889.3 371.1 L889.5 372.3 L889.8 374.3 L890.0 375.6 L890.2 377.4 L890.5 378.5 L890.7 379.4 L891.0 380.8 L891.2 381.7 L891.4 382.9 L891.7 383.8 L891.9 384.1 L892.2 384.3 L892.4 384.9 L892.7 384.7 L892.9 384.8 L893.2 384.6 L893.4 383.9 L893.7 383.3 L894.0 382.7 L894.2 381.9 L894.5 380.7 L894.7 380.2 L895.0 380.0 L895.3 379.1 L895.5 378.8 L895.7 377.5 L896.0 377.5 L896.2 377.0 L896.5 376.2 L896.7 375.5 L897.0 375.7 L897.2 375.2 L897.5 374.3 L897.8 374.1 L898.1 373.0 L898.3 373.0 L898.6 371.7 L898.9 371.0 L899.2 370.8 L899.5 370.6 L899.9 369.3 L900.2 369.0 L900.5 369.1 L900.8 368.1 L901.2 368.4 L901.5 367.6 L901.8 367.2 L902.2 366.9 L902.5 366.6 L902.9 366.1 L903.3 365.5 L903.6 365.5 L904.0 365.6 L904.4 364.8 L904.8 365.3 L905.2 365.8 L905.6 365.1 L906.0 365.8 L906.4 366.3 L906.8 366.3 L907.2 366.3 L907.6 367.0 L908.0 366.5 L908.4 366.3 L908.8 367.0 L909.2 366.6 L909.6 367.2 L910.1 366.7 L910.5 366.7 L910.9 366.3 L911.3 366.8 L911.6 366.1 L912.0 366.4 L912.3 365.4 L912.6 366.0 L912.9 365.4 L913.2 365.1 L913.4 364.5 L913.7 364.1 L914.0 363.2 L914.3 362.5 L914.6 362.2 L915.0 361.8 L915.4 360.6 L915.9 359.8 L916.4 359.4 L916.9 358.8 L917.4 357.4 L918.0 356.7 L918.5 356.2 L919.0 354.5 L919.5 353.9 L919.9 353.7 L920.3 353.2 L920.6 352.5 L920.9 352.1 L921.2 352.0 L921.5 351.5 L921.8 351.7 L922.1 351.4 L922.4 350.6 L922.7 350.3 L923.0 350.6 L923.3 350.7 L923.7 350.0 L924.1 349.7 L924.4 349.6 L924.8 350.4 L925.2 349.6 L925.6 350.3 L925.9 350.1 L926.3 349.9 L926.7 349.4 L927.1 349.7 L927.5 349.4 L927.9 349.8 L928.2 349.7 L928.6 349.6 L929.0 349.3 L929.4 349.4 L929.8 348.6 L930.2 348.6 L930.6 349.1 L931.0 348.8 L931.4 348.2 L931.7 348.0 L932.1 347.5 L932.5 346.8 L932.9 346.6 L933.3 346.7 L933.7 345.8 L934.1 345.3 L934.5 345.1 L935.0 344.6 L935.4 344.6 L935.9 344.6 L936.4 344.1 L937.0 343.5 L937.5 343.4 L938.0 343.7 L938.5 343.0 L938.9 342.9 L939.4 343.0 L939.8 342.9 L940.3 343.0 L940.7 343.3 L941.1 342.8 L941.5 343.4 L941.9 343.6 L942.2 344.1 L942.6 343.4 L943.0 344.0 L943.3 344.4 L943.6 344.7 L943.9 344.6 L944.2 345.8 L944.5 346.2 L944.8 345.9 L945.0 346.5 L945.3 346.8 L945.6 347.2 L945.9 347.4 L946.2 348.0 L946.5 348.7 L946.9 349.0 L947.3 349.6 L947.6 351.1 L948.0 351.7 L948.4 351.6 L948.8 352.7 L949.2 353.3 L949.6 354.3 L950.0 354.4 L950.4 355.5 L950.8 355.4 L951.2 355.9 L951.5 357.2 L951.9 357.1 L952.3 357.8 L952.7 358.6 L953.1 359.0 L953.6 359.9 L954.0 359.8 L954.5 360.3 L954.9 360.7 L955.4 361.3 L955.9 361.6 L956.4 361.6 L957.0 361.4 L957.5 361.7 L958.0 361.8 L958.4 361.3 L958.9 361.4 L959.3 360.9 L959.7 360.8 L960.0 360.4 L960.3 360.3 L960.6 359.1 L960.9 358.7 L961.3 359.0 L961.8 358.4 L962.3 358.0 L963.0 357.8 L963.8 358.3 L964.7 358.8 L965.6 359.2 L966.6 360.1 L967.7 361.0 L968.8 360.9 L970.0 362.3 L971.1 362.3 L972.3 362.8 L973.4 362.5 L974.5 362.2 L975.7 361.6 L976.9 359.9 L978.2 358.7 L979.4 357.9 L980.6 356.6 L981.9 355.3 L983.1 354.6 L984.2 354.1 L985.4 353.4 L986.5 354.0 L987.6 354.2 L988.6 354.4 L989.7 355.6 L990.7 355.6 L991.7 356.6 L992.8 358.2 L993.8 358.9 L994.9 359.4 L996.0 359.6 L997.2 359.4 L998.3 359.4 L999.5 358.8 L1000.8 358.6 L1002.0 358.1 L1003.2 357.8 L1004.5 357.4 L1005.7 357.5 L1006.9 357.3 L1008.0 357.2 L1009.1 357.4 L1010.2 358.3 L1011.3 358.7 L1012.3 359.4 L1013.4 360.8 L1014.4 361.8 L1015.4 362.9 L1016.4 363.3 L1017.4 363.9 L1018.4 364.4 L1019.3 364.1 L1020.3 363.9 L1021.2 362.9 L1022.0 363.0 L1022.9 362.4 L1023.8 361.2 L1024.6 360.5 L1025.5 360.2 L1026.4 360.1 L1027.4 359.4 L1028.4 359.7 L1029.4 360.0 L1030.4 360.5 L1031.4 360.4 L1032.5 361.2 L1033.5 361.2 L1034.6 362.2 L1035.7 361.9 L1036.8 362.8 L1037.9 362.7 L1039.0 362.2 L1040.2 362.2 L1041.4 361.0 L1042.7 361.0 L1043.9 359.4 L1045.1 359.2 L1046.4 358.2 L1047.6 358.0 L1048.8 357.7 L1049.9 356.9 L1051.0 357.7 L1052.1 357.5 L1053.1 358.3 L1054.1 358.4 L1055.2 359.6 L1056.2 359.5 L1057.2 360.1 L1058.2 360.5 L1059.3 360.7 L1060.4 361.4 L1061.5 361.2 L1062.7 360.9 L1063.9 360.0 L1065.1 358.7 L1066.4 357.9 L1067.6 357.4 L1068.8 356.9 L1070.0 355.7 L1071.2 355.7 L1072.4 355.0 L1073.5 355.3 L1074.7 355.6 L1075.8 356.5 L1076.9 356.8 L1077.9 356.9 L1079.0 357.6 L1080.1 358.4 L1081.2 358.5 L1082.2 358.9 L1083.3 359.3 L1084.4 358.7 L1085.4 359.0 L1086.5 357.8 L1087.5 357.6 L1088.6 356.9 L1089.6 356.4 L1090.7 356.8 L1091.7 355.8 L1092.8 355.3 L1093.8 356.0 L1094.9 356.1 L1095.9 355.7 L1097.0 356.6 L1098.0 357.3 L1099.1 357.7 L1100.2 358.5 L1101.2 358.7 L1102.3 360.1 L1103.3 359.9 L1104.3 359.9 L1105.3 359.7 L1106.3 359.7 L1107.2 358.8 L1108.1 357.4 L1109.1 357.0 L1110.0 356.6 L1110.9 355.4 L1111.9 355.2 L1112.9 354.2 L1114.0 354.3 L1115.1 355.0 L1116.3 354.8 L1117.5 355.4 L1118.7 356.2 L1120.0 356.5 L1121.3 357.1 L1122.5 358.6 L1123.7 358.5 L1124.9 359.6 L1126.0 359.6 L1127.0 359.2 L1128.0 359.7 L1129.0 358.5 L1129.9 358.1 L1130.8 357.7 L1131.7 356.9 L1132.6 357.2 L1133.6 356.0 L1134.6 356.3 L1135.7 356.0 L1136.9 356.4 L1138.2 356.4 L1139.5 357.0 L1140.9 358.1 L1142.3 358.6 L1143.7 358.8 L1145.1 359.8 L1146.5 360.6 L1147.8 360.5 L1149.0 360.7 L1150.2 361.0 L1151.3 360.8 L1152.3 360.8 L1153.4 360.1 L1154.4 360.0 L1155.4 359.8 L1156.4 358.8 L1157.4 359.1 L1158.4 358.4 L1159.5 358.5 L1160.6 359.0 L1161.7 359.0 L1162.9 359.0 L1164.1 359.9 L1165.2 360.2 L1166.4 360.7 L1167.5 361.5 L1168.6 362.6 L1169.7 362.3 L1170.7 363.0 L1171.6 363.1 L1172.5 362.6 L1173.4 362.2 L1174.2 362.6 L1174.9 362.3 L1175.7 361.2 L1176.5 361.4 L1177.3 360.5 L1178.1 361.1 L1179.0 361.1 L1179.9 360.9 L1180.9 361.2 L1181.8 361.3 L1182.8 362.0 L1183.8 361.4 L1184.8 361.8 L1185.8 362.4 L1186.8 363.1 L1187.9 362.4 L1188.9 363.2 L1190.0 363.1 L1191.0 362.4 L1192.1 362.5 L1193.2 362.3 L1194.4 361.1 L1195.5 360.9 L1196.6 360.4 L1197.7 360.3 L1198.9 360.2 L1200.0 360.3 L1201.1 359.9 L1202.3 360.7 L1203.4 361.0 L1204.6 361.0 L1205.7 361.8 L1206.9 362.7 L1208.0 362.8 L1209.1 363.3 L1210.2 363.0 L1211.3 363.1 L1212.3 363.6 L1213.3 363.0 L1214.2 362.9 L1215.1 362.3 L1216.0 361.1 L1216.9 361.3 L1217.9 360.0 L1218.8 360.0 L1219.9 360.0 L1221.0 359.6 L1222.3 359.3 L1223.7 360.2 L1225.2 360.6 L1226.7 360.5 L1228.3 361.6 L1229.8 362.0 L1231.2 361.6 L1232.5 362.2 L1233.6 362.8 L1234.4 362.6 L1234.4 366.0 L1233.6 365.6 L1232.5 365.0 L1231.2 365.0 L1229.8 364.7 L1228.3 364.5 L1226.7 363.5 L1225.2 363.0 L1223.7 363.1 L1222.3 362.5 L1221.0 362.7 L1219.9 362.8 L1218.8 363.5 L1217.9 364.2 L1216.9 364.3 L1216.0 364.9 L1215.1 365.2 L1214.2 365.5 L1213.3 366.4 L1212.3 366.3 L1211.3 366.6 L1210.2 366.3 L1209.1 366.8 L1208.0 366.1 L1206.9 365.8 L1205.7 365.3 L1204.6 364.6 L1203.4 364.9 L1202.3 364.1 L1201.1 363.9 L1200.0 363.5 L1198.9 364.0 L1197.7 363.7 L1196.6 364.0 L1195.5 365.2 L1194.4 364.9 L1193.2 365.6 L1192.1 366.0 L1191.0 365.8 L1190.0 366.3 L1188.9 366.3 L1187.9 366.8 L1186.8 366.8 L1185.8 366.5 L1184.8 365.6 L1183.8 365.9 L1182.8 365.0 L1181.8 364.9 L1180.9 365.0 L1179.9 364.4 L1179.0 364.2 L1178.1 364.8 L1177.3 364.5 L1176.5 365.3 L1175.7 365.1 L1174.9 365.6 L1174.2 366.2 L1173.4 366.3 L1172.5 366.9 L1171.6 367.0 L1170.7 366.6 L1169.7 367.0 L1168.6 366.1 L1167.5 365.5 L1166.4 364.9 L1165.2 364.7 L1164.1 364.3 L1162.9 363.5 L1161.7 363.6 L1160.6 362.7 L1159.5 362.7 L1158.4 363.0 L1157.4 362.6 L1156.4 363.0 L1155.4 364.3 L1154.4 364.7 L1153.4 364.7 L1152.3 365.6 L1151.3 365.4 L1150.2 365.2 L1149.0 365.5 L1147.8 365.5 L1146.5 365.4 L1145.1 364.5 L1143.7 364.2 L1142.3 363.4 L1140.9 362.2 L1139.5 362.0 L1138.2 361.5 L1136.9 361.5 L1135.7 360.9 L1134.6 360.8 L1133.6 360.8 L1132.6 361.8 L1131.7 362.2 L1130.8 363.0 L1129.9 363.5 L1129.0 363.7 L1128.0 363.7 L1127.0 364.9 L1126.0 364.1 L1124.9 364.8 L1123.7 363.4 L1122.5 363.7 L1121.3 362.5 L1120.0 361.9 L1118.7 360.8 L1117.5 360.4 L1116.3 359.8 L1115.1 359.4 L1114.0 360.1 L1112.9 360.1 L1111.9 360.7 L1110.9 361.4 L1110.0 362.1 L1109.1 362.9 L1108.1 363.6 L1107.2 363.6 L1106.3 364.9 L1105.3 365.3 L1104.3 365.7 L1103.3 364.9 L1102.3 365.3 L1101.2 364.5 L1100.2 364.1 L1099.1 364.0 L1098.0 362.5 L1097.0 362.2 L1095.9 361.6 L1094.9 361.4 L1093.8 360.9 L1092.8 361.3 L1091.7 362.1 L1090.7 362.1 L1089.6 362.6 L1088.6 362.9 L1087.5 363.8 L1086.5 364.1 L1085.4 364.6 L1084.4 364.7 L1083.3 365.0 L1082.2 365.1 L1081.2 364.4 L1080.1 364.6 L1079.0 363.5 L1077.9 362.7 L1076.9 362.8 L1075.8 361.7 L1074.7 362.2 L1073.5 361.8 L1072.4 361.7 L1071.2 361.7 L1070.0 362.3 L1068.8 363.3 L1067.6 363.8 L1066.4 364.3 L1065.1 365.1 L1063.9 366.7 L1062.7 367.4 L1061.5 367.6 L1060.4 368.0 L1059.3 367.9 L1058.2 367.5 L1057.2 366.6 L1056.2 366.2 L1055.2 365.9 L1054.1 365.5 L1053.1 365.2 L1052.1 364.7 L1051.0 364.6 L1049.9 364.1 L1048.8 364.5 L1047.6 364.9 L1046.4 365.0 L1045.1 366.1 L1043.9 366.4 L1042.7 367.2 L1041.4 368.3 L1040.2 368.6 L1039.0 369.3 L1037.9 369.4 L1036.8 369.9 L1035.7 369.4 L1034.6 368.7 L1033.5 368.7 L1032.5 368.5 L1031.4 367.3 L1030.4 366.8 L1029.4 366.6 L1028.4 366.6 L1027.4 366.1 L1026.4 366.8 L1025.5 367.5 L1024.6 367.3 L1023.8 367.8 L1022.9 369.0 L1022.0 369.3 L1021.2 370.2 L1020.3 370.7 L1019.3 371.2 L1018.4 371.3 L1017.4 370.8 L1016.4 369.7 L1015.4 369.2 L1014.4 368.4 L1013.4 367.9 L1012.3 366.6 L1011.3 365.5 L1010.2 365.2 L1009.1 364.6 L1008.0 364.5 L1006.9 364.3 L1005.7 364.6 L1004.5 365.0 L1003.2 365.1 L1002.0 365.2 L1000.8 365.3 L999.5 366.0 L998.3 366.5 L997.2 366.1 L996.0 366.8 L994.9 366.5 L993.8 365.4 L992.8 364.5 L991.7 364.2 L990.7 362.8 L989.7 362.2 L988.6 361.1 L987.6 361.0 L986.5 360.9 L985.4 360.2 L984.2 360.6 L983.1 361.4 L981.9 362.2 L980.6 363.4 L979.4 365.3 L978.2 366.2 L976.9 367.8 L975.7 368.2 L974.5 368.7 L973.4 370.0 L972.3 370.0 L971.1 369.3 L970.0 368.9 L968.8 368.1 L967.7 367.9 L966.6 366.8 L965.6 365.9 L964.7 365.2 L963.8 365.5 L963.0 364.5 L962.3 364.9 L961.8 365.0 L961.3 366.1 L960.9 365.9 L960.6 366.1 L960.3 367.1 L960.0 367.1 L959.7 368.2 L959.3 368.0 L958.9 368.1 L958.4 368.9 L958.0 368.8 L957.5 369.0 L957.0 368.8 L956.4 368.4 L955.9 368.3 L955.4 368.0 L954.9 367.4 L954.5 366.9 L954.0 366.7 L953.6 366.0 L953.1 365.4 L952.7 365.3 L952.3 364.2 L951.9 363.5 L951.5 362.8 L951.2 362.4 L950.8 361.0 L950.4 360.0 L950.0 359.3 L949.6 358.9 L949.2 357.6 L948.8 356.5 L948.4 355.5 L948.0 354.1 L947.6 353.5 L947.3 352.4 L946.9 351.2 L946.5 350.5 L946.2 349.7 L945.9 349.4 L945.6 347.8 L945.3 347.5 L945.0 346.5 L944.8 346.0 L944.5 345.6 L944.2 345.6 L943.9 344.9 L943.6 344.8 L943.3 345.1 L943.0 343.9 L942.6 344.4 L942.2 343.4 L941.9 343.7 L941.5 344.0 L941.1 343.2 L940.7 343.6 L940.3 343.1 L939.8 343.1 L939.4 343.8 L938.9 343.0 L938.5 343.1 L938.0 343.4 L937.5 344.1 L937.0 344.4 L936.4 344.9 L935.9 344.9 L935.4 345.5 L935.0 345.8 L934.5 345.6 L934.1 345.7 L933.7 346.1 L933.3 346.3 L932.9 346.9 L932.5 347.1 L932.1 347.4 L931.7 348.1 L931.4 348.9 L931.0 348.4 L930.6 349.2 L930.2 349.2 L929.8 349.5 L929.4 350.2 L929.0 350.7 L928.6 350.9 L928.2 351.1 L927.9 351.6 L927.5 351.4 L927.1 351.9 L926.7 352.2 L926.3 352.5 L925.9 352.6 L925.6 353.4 L925.2 353.2 L924.8 354.0 L924.4 353.8 L924.1 354.7 L923.7 355.1 L923.3 355.1 L923.0 355.2 L922.7 355.4 L922.4 356.3 L922.1 356.5 L921.8 356.4 L921.5 356.9 L921.2 357.0 L920.9 358.0 L920.6 358.3 L920.3 358.8 L919.9 359.7 L919.5 360.1 L919.0 361.0 L918.5 361.5 L918.0 362.6 L917.4 363.3 L916.9 364.0 L916.4 365.5 L915.9 365.7 L915.4 366.7 L915.0 367.1 L914.6 367.8 L914.3 368.8 L914.0 369.7 L913.7 369.4 L913.4 370.6 L913.2 370.3 L912.9 370.5 L912.6 371.8 L912.3 371.8 L912.0 372.0 L911.6 372.4 L911.3 371.8 L910.9 372.4 L910.5 372.3 L910.1 372.5 L909.6 372.1 L909.2 372.7 L908.8 372.3 L908.4 372.7 L908.0 372.6 L907.6 371.9 L907.2 371.9 L906.8 372.3 L906.4 371.7 L906.0 371.4 L905.6 371.4 L905.2 371.0 L904.8 371.2 L904.4 370.4 L904.0 370.7 L903.6 370.5 L903.3 370.8 L902.9 370.8 L902.5 371.0 L902.2 371.1 L901.8 371.9 L901.5 372.1 L901.2 372.3 L900.8 372.5 L900.5 372.9 L900.2 374.0 L899.9 374.0 L899.5 374.7 L899.2 374.7 L898.9 375.5 L898.6 375.8 L898.3 376.3 L898.1 376.7 L897.8 377.3 L897.5 377.6 L897.2 378.7 L897.0 378.6 L896.7 379.0 L896.5 379.6 L896.2 380.5 L896.0 380.2 L895.7 381.1 L895.5 381.0 L895.3 381.9 L895.0 383.0 L894.7 383.1 L894.5 383.4 L894.2 384.6 L894.0 385.2 L893.7 386.5 L893.4 386.5 L893.2 386.8 L892.9 387.1 L892.7 388.1 L892.4 387.6 L892.2 387.3 L891.9 387.3 L891.7 386.3 L891.4 385.3 L891.2 384.0 L891.0 383.0 L890.7 381.8 L890.5 380.6 L890.2 379.1 L890.0 378.3 L889.8 376.8 L889.5 374.6 L889.3 373.3 L889.0 371.5 L888.8 369.1 L888.6 367.2 L888.3 364.7 L888.1 363.2 L887.8 360.9 L887.6 359.3 L887.4 357.0 L887.1 355.4 L886.9 353.2 L886.6 351.3 L886.4 349.3 L886.2 347.1 L885.9 345.2 L885.7 343.2 L885.4 341.0 L885.2 338.8 L885.0 336.8 L884.7 335.0 L884.5 332.6 L884.3 330.2 L884.0 328.2 L883.8 326.1 L883.6 324.0 L883.4 322.0 L883.1 320.0 L882.9 317.5 L882.7 315.7 L882.4 314.1 L882.2 312.6 L882.0 310.0 L881.7 308.4 L881.5 307.1 L881.3 305.2 L881.0 304.0 L880.8 302.1 L880.5 301.0 L880.2 299.1 L880.0 297.9 L879.7 296.5 L879.4 294.1 L879.1 293.1 L878.8 292.2 L878.5 290.7 L878.2 290.3 L877.9 289.3 L877.6 289.6 L877.3 289.6 L877.0 291.4 L876.7 291.7 L876.4 293.1 L876.0 295.0 L875.7 297.4 L875.4 299.5 L875.1 301.0 L874.8 303.8 L874.5 305.9 L874.2 308.1 L873.9 310.7 L873.7 312.9 L873.4 316.4 L873.1 319.1 L872.9 322.3 L872.6 324.4 L872.4 327.9 L872.1 331.0 L871.9 333.8 L871.7 335.7 L871.5 338.5 L871.3 341.6 L871.2 344.2 L871.0 346.7 L870.8 349.7 L870.7 352.3 L870.5 354.5 L870.4 357.3 L870.2 360.3 L870.0 363.9 L869.9 366.9 L869.7 369.8 L869.5 373.2 L869.4 376.3 L869.2 378.8 L869.0 382.5 L868.9 384.7 L868.7 387.5 L868.5 390.2 L868.3 393.4 L868.1 395.2 L867.8 397.9 L867.6 399.9 L867.3 402.0 L867.1 404.6 L866.9 406.3 L866.7 408.4 L866.5 409.8 L866.4 410.7 Z" fill="#222" stroke="#222" stroke-width="1.6" stroke-linejoin="round"/>
<g fill="none" stroke="#222" stroke-width="1.6">
<path d="M920.0 356.0 L920.5 355.3 L921.0 354.5 L921.5 353.8 L922.0 353.1 L922.5 352.5 L923.0 351.9 L923.5 351.3 L924.0 350.7 L924.5 350.2 L925.0 349.6 L925.5 349.0 L926.0 348.3 L926.5 347.5 L927.0 346.7 L927.5 345.8 L928.0 344.9 L928.5 344.0 L929.0 342.9 L929.5 341.8 L930.0 340.6 L930.5 339.3 L931.0 337.9 L931.5 336.3 L932.0 334.8 L932.5 333.1 L933.0 331.5 L933.5 329.9 L934.0 328.4 L934.5 326.9 L935.0 325.6 L935.5 324.3 L936.0 323.1 L936.5 322.1 L937.0 321.1 L937.5 320.3 L938.0 319.6 L938.5 319.1 L939.0 318.8 L939.5 318.7 L940.0 318.8 L940.5 319.0 L941.0 319.5 L941.5 320.2 L942.0 321.0 L942.5 322.0 L943.0 323.2 L943.5 324.5 L944.0 326.0 L944.5 327.8 L945.0 329.7 L945.5 331.7 L946.0 333.8 L946.5 335.9 L947.0 338.1 L947.5 340.2 L948.0 342.4 L948.5 344.5 L949.0 346.5 L949.5 348.5 L950.0 350.3 L950.5 352.1 L951.0 353.7 L951.5 355.4 L952.0 356.9 L952.5 358.2 L953.0 359.5 L953.5 360.5 L954.0 361.4 L954.5 362.1 L955.0 362.8 L955.5 363.3 L956.0 363.7 L956.5 364.1 L957.0 364.3 L957.5 364.5 L958.0 364.6 L958.5 364.7 L959.0 364.7 L959.5 364.4 L960.0 363.9"/>
<path d="M920.0 356.2 L920.5 355.4 L921.0 354.7 L921.5 354.0 L922.0 353.4 L922.5 352.8 L923.0 352.3 L923.5 351.8 L924.0 351.3 L924.5 350.9 L925.0 350.4 L925.5 349.9 L926.0 349.4 L926.5 348.8 L927.0 348.2 L927.5 347.6 L928.0 346.9 L928.5 346.2 L929.0 345.4 L929.5 344.6 L930.0 343.7 L930.5 342.8 L931.0 341.7 L931.5 340.6 L932.0 339.4 L932.5 338.2 L933.0 337.0 L933.5 335.8 L934.0 334.7 L934.5 333.6 L935.0 332.6 L935.5 331.7 L936.0 330.8 L936.5 330.0 L937.0 329.3 L937.5 328.7 L938.0 328.2 L938.5 327.8 L939.0 327.6 L939.5 327.5 L940.0 327.5 L940.5 327.7 L941.0 328.0 L941.5 328.5 L942.0 329.1 L942.5 329.9 L943.0 330.7 L943.5 331.8 L944.0 332.9 L944.5 334.3 L945.0 335.8 L945.5 337.5 L946.0 339.1 L946.5 340.8 L947.0 342.6 L947.5 344.3 L948.0 346.1 L948.5 347.9 L949.0 349.6 L949.5 351.2 L950.0 352.7 L950.5 354.2 L951.0 355.6 L951.5 357.0 L952.0 358.3 L952.5 359.4 L953.0 360.5 L953.5 361.4 L954.0 362.2 L954.5 362.8 L955.0 363.3 L955.5 363.7 L956.0 364.1 L956.5 364.4 L957.0 364.6 L957.5 364.7 L958.0 364.8 L958.5 364.8 L959.0 364.8 L959.5 364.5 L960.0 363.9"/>
<path d="M920.0 356.2 L920.5 355.5 L921.0 354.8 L921.5 354.2 L922.0 353.6 L922.5 353.1 L923.0 352.6 L923.5 352.2 L924.0 351.8 L924.5 351.4 L925.0 351.0 L925.5 350.6 L926.0 350.2 L926.5 349.8 L927.0 349.4 L927.5 348.9 L928.0 348.4 L928.5 347.9 L929.0 347.4 L929.5 346.8 L930.0 346.2 L930.5 345.5 L931.0 344.8 L931.5 344.0 L932.0 343.1 L932.5 342.2 L933.0 341.3 L933.5 340.4 L934.0 339.6 L934.5 338.8 L935.0 338.1 L935.5 337.5 L936.0 336.9 L936.5 336.3 L937.0 335.8 L937.5 335.3 L938.0 335.0 L938.5 334.7 L939.0 334.5 L939.5 334.4 L940.0 334.4 L940.5 334.5 L941.0 334.7 L941.5 335.1 L942.0 335.5 L942.5 336.0 L943.0 336.7 L943.5 337.4 L944.0 338.3 L944.5 339.4 L945.0 340.6 L945.5 342.0 L946.0 343.3 L946.5 344.7 L947.0 346.1 L947.5 347.6 L948.0 349.1 L948.5 350.5 L949.0 352.0 L949.5 353.3 L950.0 354.6 L950.5 355.8 L951.0 357.1 L951.5 358.2 L952.0 359.4 L952.5 360.4 L953.0 361.3 L953.5 362.1 L954.0 362.8 L954.5 363.3 L955.0 363.7 L955.5 364.1 L956.0 364.4 L956.5 364.6 L957.0 364.8 L957.5 364.9 L958.0 364.9 L958.5 364.9 L959.0 364.9 L959.5 364.6 L960.0 364.0"/>
<path d="M920.0 356.3 L920.5 355.6 L921.0 354.9 L921.5 354.3 L922.0 353.8 L922.5 353.3 L923.0 352.8 L923.5 352.4 L924.0 352.1 L924.5 351.7 L925.0 351.4 L925.5 351.2 L926.0 350.8 L926.5 350.5 L927.0 350.2 L927.5 349.8 L928.0 349.5 L928.5 349.1 L929.0 348.8 L929.5 348.4 L930.0 347.9 L930.5 347.5 L931.0 346.9 L931.5 346.3 L932.0 345.6 L932.5 344.9 L933.0 344.3 L933.5 343.6 L934.0 343.0 L934.5 342.5 L935.0 342.0 L935.5 341.5 L936.0 341.1 L936.5 340.7 L937.0 340.3 L937.5 340.0 L938.0 339.7 L938.5 339.4 L939.0 339.3 L939.5 339.2 L940.0 339.2 L940.5 339.3 L941.0 339.4 L941.5 339.6 L942.0 339.9 L942.5 340.3 L943.0 340.8 L943.5 341.4 L944.0 342.1 L944.5 343.0 L945.0 344.0 L945.5 345.1 L946.0 346.2 L946.5 347.3 L947.0 348.6 L947.5 349.8 L948.0 351.1 L948.5 352.4 L949.0 353.6 L949.5 354.8 L950.0 355.9 L950.5 357.0 L951.0 358.1 L951.5 359.1 L952.0 360.1 L952.5 361.1 L953.0 361.9 L953.5 362.6 L954.0 363.2 L954.5 363.6 L955.0 364.0 L955.5 364.3 L956.0 364.6 L956.5 364.8 L957.0 364.9 L957.5 365.0 L958.0 365.0 L958.5 365.0 L959.0 364.9 L959.5 364.6 L960.0 364.0"/>
</g>
<g fill="none" stroke="#484848" stroke-width="1.2">
<path d="M965.0 288.0 C968.2 283.8 977.7 272.6 984.0 262.8 C990.3 253.0 997.6 238.4 1002.6 229.3 C1007.6 220.2 1010.4 214.8 1014.1 208.3 C1017.8 201.8 1021.7 195.3 1024.6 190.4 C1027.4 185.5 1028.9 183.6 1031.2 179.1 C1033.5 174.6 1036.0 168.7 1038.4 163.5 C1040.8 158.3 1043.2 153.6 1045.6 148.0 C1048.0 142.4 1050.6 135.8 1052.8 130.0 C1055.0 124.2 1057.1 118.2 1058.8 113.2 C1060.5 108.2 1061.1 105.4 1063.0 100.0 C1064.9 94.6 1067.1 88.0 1070.2 80.7 C1073.3 73.4 1078.0 62.2 1081.4 56.0 C1084.8 49.8 1087.8 46.3 1090.4 43.6 C1093.0 40.9 1095.0 40.3 1097.0 40.0 C1099.0 39.7 1100.1 40.4 1102.2 41.7 C1104.3 43.0 1107.3 45.1 1109.4 48.0 C1111.5 50.9 1113.0 54.9 1114.8 58.8 C1116.6 62.7 1118.5 67.2 1120.2 71.4 C1121.9 75.6 1123.4 79.8 1124.7 84.0 C1126.0 88.2 1127.1 92.4 1128.3 96.6 C1129.5 100.8 1130.7 105.0 1131.9 109.2 C1133.1 113.4 1134.3 117.3 1135.5 121.8 C1136.7 126.3 1137.9 131.3 1139.1 136.2 C1140.3 141.1 1141.2 145.4 1142.7 151.0 C1144.2 156.6 1146.6 163.8 1148.4 170.0 C1150.2 176.2 1152.0 182.6 1153.8 188.0 C1155.6 193.4 1157.4 197.6 1159.2 202.4 C1161.0 207.2 1162.4 212.2 1164.5 216.7 C1166.6 221.2 1169.0 225.9 1171.7 229.3 C1174.4 232.8 1177.1 235.9 1180.7 237.4 C1184.3 238.9 1189.1 238.8 1193.3 238.3 C1197.5 237.9 1202.0 235.3 1205.9 234.7 C1209.8 234.1 1213.4 234.2 1216.7 234.7 C1220.0 235.1 1222.8 236.3 1225.7 237.4 C1228.6 238.5 1232.6 240.4 1234.0 241.0"/>
<path d="M965.0 272.4 C968.2 268.0 978.8 253.3 984.0 246.0 C989.2 238.7 993.2 233.0 996.3 228.5 C999.4 224.0 1000.5 222.2 1002.6 219.0 C1004.7 215.8 1006.7 212.7 1009.0 209.5 C1011.3 206.3 1013.6 203.3 1016.2 200.0 C1018.8 196.7 1021.5 193.1 1024.6 189.4 C1027.7 185.7 1031.5 181.6 1035.0 178.0 C1038.5 174.4 1042.4 171.2 1045.6 168.0 C1048.8 164.8 1051.2 162.2 1054.0 159.0 C1056.8 155.8 1059.6 152.1 1062.4 148.5 C1065.2 144.9 1067.8 141.1 1070.8 137.2 C1073.8 133.3 1077.5 128.6 1080.3 125.2 C1083.1 121.8 1085.1 119.0 1087.5 116.8 C1089.9 114.6 1092.6 112.9 1094.7 112.0 C1096.8 111.1 1097.6 110.7 1100.0 111.5 C1102.4 112.3 1106.2 114.4 1109.0 117.0 C1111.8 119.6 1114.4 124.0 1116.6 127.2 C1118.8 130.4 1120.2 132.9 1122.0 136.2 C1123.8 139.5 1125.8 143.5 1127.4 147.0 C1129.0 150.5 1129.8 152.3 1131.5 157.0 C1133.2 161.7 1135.7 169.9 1137.6 175.4 C1139.5 180.9 1141.2 184.7 1143.0 189.8 C1144.8 194.9 1146.3 200.3 1148.4 206.0 C1150.5 211.7 1153.2 218.3 1155.6 224.0 C1158.0 229.7 1160.4 235.3 1162.8 240.1 C1165.2 244.9 1167.3 249.1 1170.0 252.7 C1172.7 256.3 1176.0 259.8 1179.0 261.7 C1182.0 263.6 1184.7 264.4 1188.0 264.4 C1191.3 264.4 1195.1 263.2 1198.7 261.7 C1202.3 260.2 1205.6 257.4 1209.5 255.4 C1213.4 253.5 1218.0 251.1 1222.1 250.0 C1226.2 248.9 1232.0 249.2 1234.0 249.1"/>
<path d="M965.0 259.2 C968.2 255.4 979.8 241.5 984.0 236.4 C988.2 231.3 986.9 232.0 990.0 228.5 C993.1 225.0 999.4 218.7 1002.6 215.6 C1005.8 212.5 1006.7 211.6 1009.0 210.0 C1011.3 208.4 1013.7 207.1 1016.2 206.2 C1018.7 205.3 1021.4 205.2 1024.0 204.5 C1026.6 203.8 1028.9 202.9 1032.0 202.0 C1035.1 201.1 1039.0 200.2 1042.5 198.8 C1046.0 197.4 1050.1 195.2 1053.0 193.6 C1055.9 192.0 1057.0 191.7 1060.0 189.4 C1063.0 187.1 1067.4 183.1 1070.8 180.0 C1074.2 176.9 1077.1 173.6 1080.3 170.7 C1083.5 167.8 1087.1 164.4 1089.9 162.3 C1092.7 160.2 1095.4 158.9 1097.1 158.1 C1098.8 157.3 1098.0 156.8 1100.0 157.6 C1102.0 158.4 1106.0 160.6 1109.0 163.0 C1112.0 165.4 1115.3 168.7 1118.0 172.0 C1120.7 175.3 1122.6 178.4 1125.0 182.6 C1127.4 186.8 1129.8 191.6 1132.2 197.0 C1134.6 202.4 1137.0 209.3 1139.4 215.0 C1141.8 220.7 1144.2 226.0 1146.6 231.1 C1149.0 236.2 1151.4 241.0 1153.8 245.5 C1156.2 250.0 1158.3 254.5 1161.0 258.1 C1163.7 261.7 1167.0 265.0 1170.0 267.1 C1173.0 269.2 1176.0 270.2 1179.0 270.7 C1182.0 271.1 1184.4 270.7 1188.0 269.8 C1191.6 268.9 1196.6 266.5 1200.5 265.3 C1204.4 264.1 1207.7 262.9 1211.3 262.6 C1214.9 262.3 1218.3 262.9 1222.1 263.5 C1225.9 264.1 1232.0 265.8 1234.0 266.2"/>
</g>
<g fill="none" stroke="#888" stroke-width="1.2" stroke-dasharray="1.2 4">
<path d="M1020.0 195.0 C1022.5 190.0 1030.3 174.8 1035.0 165.0 C1039.7 155.2 1043.8 145.8 1048.0 136.0 C1052.2 126.2 1056.0 116.0 1060.0 106.0 C1064.0 96.0 1068.3 85.0 1072.0 76.0 C1075.7 67.0 1078.8 58.3 1082.0 52.0 C1085.2 45.7 1088.1 41.1 1091.0 38.0 C1093.9 34.9 1096.6 33.7 1099.4 33.5 C1102.2 33.3 1105.2 33.9 1108.0 37.0 C1110.8 40.1 1114.7 49.5 1116.0 52.0"/>
<path d="M1040.0 165.0 C1042.5 160.5 1050.3 146.2 1055.0 138.0 C1059.7 129.8 1064.0 122.5 1068.0 116.0 C1072.0 109.5 1075.3 104.2 1079.0 98.7 C1082.7 93.2 1087.0 86.6 1090.4 83.0 C1093.8 79.4 1096.5 77.8 1099.4 77.3 C1102.3 76.8 1104.9 77.0 1108.0 80.0 C1111.1 83.0 1115.0 89.5 1118.0 95.0 C1121.0 100.5 1123.3 106.3 1126.0 113.0 C1128.7 119.7 1131.5 127.5 1134.0 135.0 C1136.5 142.5 1138.7 150.5 1141.0 158.0 C1143.3 165.5 1145.5 172.5 1148.0 180.0 C1150.5 187.5 1153.3 196.0 1156.0 203.0 C1158.7 210.0 1161.0 216.5 1164.0 222.0 C1167.0 227.5 1170.3 232.5 1174.0 236.0 C1177.7 239.5 1182.0 241.5 1186.0 243.0 C1190.0 244.5 1194.0 244.9 1198.0 245.0 C1202.0 245.1 1206.0 243.8 1210.0 243.5 C1214.0 243.2 1218.0 242.8 1222.0 243.0 C1226.0 243.2 1232.0 244.7 1234.0 245.0"/>
</g>
<text x="64.6" y="139.0" font-size="35.0" text-anchor="end">1</text>
<text x="71.8" y="371.5" font-size="35.0" text-anchor="end">0.5</text>
<text x="66.5" y="601.0" font-size="35.0" text-anchor="end">0</text>
<text x="81.5" y="627.0" font-size="35.0" text-anchor="middle">0</text>
<text x="188.0" y="627.0" font-size="35.0" text-anchor="middle">3.2</text>
<text x="294.5" y="627.0" font-size="35.0" text-anchor="middle">6.4</text>
<text x="404.0" y="627.0" font-size="35.0" text-anchor="middle">9.6</text>
<text x="510.5" y="627.0" font-size="35.0" text-anchor="middle">12.8</text>
<text x="2" y="27" font-size="35"><tspan font-style="italic">S</tspan>(<tspan font-style="italic">Q</tspan>)</text>
<text x="88" y="47" font-size="35">(a)</text>
<text x="634" y="27" font-size="35">g(<tspan font-style="italic">r</tspan>)</text>
<text x="712.5" y="44.5" font-size="35">(b)</text>
<text x="555.5" y="658" font-size="35"><tspan font-style="italic">Q</tspan> (Å<tspan font-size="23" dy="-13.5">-1</tspan><tspan dy="13.5">)</tspan></text>
<text x="1143" y="658" font-size="35"><tspan font-style="italic">r</tspan> (Å)</text>
<text x="307.5" y="401.0" font-size="35.0" text-anchor="end">1</text>
<text x="322.5" y="520.0" font-size="35.0" text-anchor="end">0.68</text>
<text x="381.0" y="554.0" font-size="35.0" text-anchor="middle">2</text>
<text x="490.5" y="553.0" font-size="35.0" text-anchor="middle">4</text>
<text x="690.0" y="141.0" font-size="35.0" text-anchor="end">3</text>
<text x="695.0" y="256.0" font-size="35.0" text-anchor="end">2</text>
<text x="697.0" y="374.0" font-size="35.0" text-anchor="end">1</text>
<text x="697.0" y="491.0" font-size="35.0" text-anchor="end">0</text>
<text x="700.0" y="626.0" font-size="35.0" text-anchor="middle">0</text>
<text x="809.0" y="626.0" font-size="35.0" text-anchor="middle">2</text>
<text x="913.0" y="626.0" font-size="35.0" text-anchor="middle">4</text>
<text x="1022.0" y="626.0" font-size="35.0" text-anchor="middle">6</text>
<text x="1129.5" y="626.0" font-size="35.0" text-anchor="middle">8</text>
<text x="1233.0" y="626.0" font-size="35.0" text-anchor="middle">10</text>
<text x="957.5" y="141.0" font-size="35.0" text-anchor="end">1.2</text>
<text x="956.5" y="260.0" font-size="35.0" text-anchor="end">1</text>
<text x="1074.5" y="337.0" font-size="35.0" text-anchor="middle">4.4</text>
<text x="1178.0" y="337.0" font-size="35.0" text-anchor="middle">4.8</text>
</svg></body></html>
